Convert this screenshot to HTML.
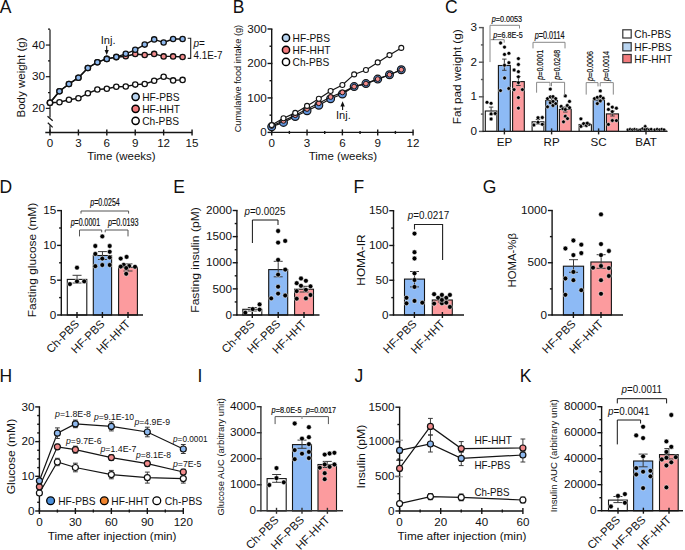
<!DOCTYPE html>
<html><head><meta charset="utf-8"><style>
html,body{margin:0;padding:0;background:#fff;width:685px;height:550px;overflow:hidden}
svg{display:block}
text{font-family:"Liberation Sans", sans-serif}
</style></head><body>
<svg width="685" height="550" viewBox="0 0 685 550">
<text x="-0.2" y="12.7" font-size="17.5" fill="#111" >A</text>
<line x1="50" y1="29.4" x2="50" y2="117.6" stroke="#151515" stroke-width="1.2"/>
<line x1="45.8" y1="108.35" x2="50" y2="108.35" stroke="#151515" stroke-width="1.2"/>
<text x="45" y="111.95" font-size="11.7" fill="#111" text-anchor="end" >20</text>
<line x1="45.8" y1="76.7" x2="50" y2="76.7" stroke="#151515" stroke-width="1.2"/>
<text x="45" y="80.3" font-size="11.7" fill="#111" text-anchor="end" >30</text>
<line x1="45.8" y1="45.05" x2="50" y2="45.05" stroke="#151515" stroke-width="1.2"/>
<text x="45" y="48.65" font-size="11.7" fill="#111" text-anchor="end" >40</text>
<line x1="48" y1="92.53" x2="50" y2="92.53" stroke="#151515" stroke-width="1.2"/>
<line x1="48" y1="60.88" x2="50" y2="60.88" stroke="#151515" stroke-width="1.2"/>
<line x1="48" y1="29.22" x2="50" y2="29.22" stroke="#151515" stroke-width="1.2"/>
<line x1="47.5" y1="116.3" x2="52.7" y2="120.8" stroke="#151515" stroke-width="1.2"/>
<line x1="47.8" y1="122.7" x2="52.7" y2="127.4" stroke="#151515" stroke-width="1.2"/>
<line x1="50" y1="125.2" x2="50" y2="132.5" stroke="#151515" stroke-width="1.2"/>
<line x1="45.3" y1="132.5" x2="192.2" y2="132.5" stroke="#151515" stroke-width="1.4"/>
<line x1="50" y1="129.5" x2="50" y2="135.5" stroke="#151515" stroke-width="1.4"/>
<text x="50" y="147.1" font-size="11.6" fill="#111" text-anchor="middle" >0</text>
<line x1="78.41" y1="129.5" x2="78.41" y2="135.5" stroke="#151515" stroke-width="1.4"/>
<text x="78.41" y="147.1" font-size="11.6" fill="#111" text-anchor="middle" >3</text>
<line x1="106.82" y1="129.5" x2="106.82" y2="135.5" stroke="#151515" stroke-width="1.4"/>
<text x="106.82" y="147.1" font-size="11.6" fill="#111" text-anchor="middle" >6</text>
<line x1="135.23" y1="129.5" x2="135.23" y2="135.5" stroke="#151515" stroke-width="1.4"/>
<text x="135.23" y="147.1" font-size="11.6" fill="#111" text-anchor="middle" >9</text>
<line x1="163.64" y1="129.5" x2="163.64" y2="135.5" stroke="#151515" stroke-width="1.4"/>
<text x="163.64" y="147.1" font-size="11.6" fill="#111" text-anchor="middle" >12</text>
<line x1="192.05" y1="129.5" x2="192.05" y2="135.5" stroke="#151515" stroke-width="1.4"/>
<text x="192.05" y="147.1" font-size="11.6" fill="#111" text-anchor="middle" >15</text>
<text x="121.4" y="159.8" font-size="11.3" fill="#111" text-anchor="middle" textLength="68.3" lengthAdjust="spacingAndGlyphs" >Time (weeks)</text>
<text transform="translate(24.7,77.5) rotate(-90)" font-size="11.4" fill="#111" text-anchor="middle" textLength="80" lengthAdjust="spacingAndGlyphs" >Body weight (g)</text>
<polyline points="50,102.7 59.47,91.3 68.94,84 78.41,77.7 87.88,68 97.35,62.2 106.82,58.9 116.29,57.2 125.76,56.3 135.23,54 144.7,55 154.17,53.9 163.64,56.4 173.11,56.4 182.58,57" fill="none" stroke="#111" stroke-width="1.4" stroke-linejoin="miter"/>
<line x1="116.29" y1="55.6" x2="116.29" y2="58.8" stroke="#3a3a3a" stroke-width="1.0"/>
<line x1="114.29" y1="55.6" x2="118.29" y2="55.6" stroke="#3a3a3a" stroke-width="1.0"/>
<line x1="114.29" y1="58.8" x2="118.29" y2="58.8" stroke="#3a3a3a" stroke-width="1.0"/>
<line x1="125.76" y1="54.7" x2="125.76" y2="57.9" stroke="#3a3a3a" stroke-width="1.0"/>
<line x1="123.76" y1="54.7" x2="127.76" y2="54.7" stroke="#3a3a3a" stroke-width="1.0"/>
<line x1="123.76" y1="57.9" x2="127.76" y2="57.9" stroke="#3a3a3a" stroke-width="1.0"/>
<line x1="135.23" y1="52.4" x2="135.23" y2="55.6" stroke="#3a3a3a" stroke-width="1.0"/>
<line x1="133.23" y1="52.4" x2="137.23" y2="52.4" stroke="#3a3a3a" stroke-width="1.0"/>
<line x1="133.23" y1="55.6" x2="137.23" y2="55.6" stroke="#3a3a3a" stroke-width="1.0"/>
<line x1="144.7" y1="53.4" x2="144.7" y2="56.6" stroke="#3a3a3a" stroke-width="1.0"/>
<line x1="142.7" y1="53.4" x2="146.7" y2="53.4" stroke="#3a3a3a" stroke-width="1.0"/>
<line x1="142.7" y1="56.6" x2="146.7" y2="56.6" stroke="#3a3a3a" stroke-width="1.0"/>
<line x1="154.17" y1="52.3" x2="154.17" y2="55.5" stroke="#3a3a3a" stroke-width="1.0"/>
<line x1="152.17" y1="52.3" x2="156.17" y2="52.3" stroke="#3a3a3a" stroke-width="1.0"/>
<line x1="152.17" y1="55.5" x2="156.17" y2="55.5" stroke="#3a3a3a" stroke-width="1.0"/>
<line x1="163.64" y1="54.8" x2="163.64" y2="58" stroke="#3a3a3a" stroke-width="1.0"/>
<line x1="161.64" y1="54.8" x2="165.64" y2="54.8" stroke="#3a3a3a" stroke-width="1.0"/>
<line x1="161.64" y1="58" x2="165.64" y2="58" stroke="#3a3a3a" stroke-width="1.0"/>
<line x1="173.11" y1="54.8" x2="173.11" y2="58" stroke="#3a3a3a" stroke-width="1.0"/>
<line x1="171.11" y1="54.8" x2="175.11" y2="54.8" stroke="#3a3a3a" stroke-width="1.0"/>
<line x1="171.11" y1="58" x2="175.11" y2="58" stroke="#3a3a3a" stroke-width="1.0"/>
<line x1="182.58" y1="55.4" x2="182.58" y2="58.6" stroke="#3a3a3a" stroke-width="1.0"/>
<line x1="180.58" y1="55.4" x2="184.58" y2="55.4" stroke="#3a3a3a" stroke-width="1.0"/>
<line x1="180.58" y1="58.6" x2="184.58" y2="58.6" stroke="#3a3a3a" stroke-width="1.0"/>
<circle cx="50" cy="102.7" r="2.65" fill="#f28b8c" stroke="#111" stroke-width="1.3"/>
<circle cx="59.47" cy="91.3" r="2.65" fill="#f28b8c" stroke="#111" stroke-width="1.3"/>
<circle cx="68.94" cy="84" r="2.65" fill="#f28b8c" stroke="#111" stroke-width="1.3"/>
<circle cx="78.41" cy="77.7" r="2.65" fill="#f28b8c" stroke="#111" stroke-width="1.3"/>
<circle cx="87.88" cy="68" r="2.65" fill="#f28b8c" stroke="#111" stroke-width="1.3"/>
<circle cx="97.35" cy="62.2" r="2.65" fill="#f28b8c" stroke="#111" stroke-width="1.3"/>
<circle cx="106.82" cy="58.9" r="2.65" fill="#f28b8c" stroke="#111" stroke-width="1.3"/>
<circle cx="116.29" cy="57.2" r="2.65" fill="#f28b8c" stroke="#111" stroke-width="1.3"/>
<circle cx="125.76" cy="56.3" r="2.65" fill="#f28b8c" stroke="#111" stroke-width="1.3"/>
<circle cx="135.23" cy="54" r="2.65" fill="#f28b8c" stroke="#111" stroke-width="1.3"/>
<circle cx="144.7" cy="55" r="2.65" fill="#f28b8c" stroke="#111" stroke-width="1.3"/>
<circle cx="154.17" cy="53.9" r="2.65" fill="#f28b8c" stroke="#111" stroke-width="1.3"/>
<circle cx="163.64" cy="56.4" r="2.65" fill="#f28b8c" stroke="#111" stroke-width="1.3"/>
<circle cx="173.11" cy="56.4" r="2.65" fill="#f28b8c" stroke="#111" stroke-width="1.3"/>
<circle cx="182.58" cy="57" r="2.65" fill="#f28b8c" stroke="#111" stroke-width="1.3"/>
<polyline points="50,102.7 59.47,91.3 68.94,84 78.41,77.7 87.88,68 97.35,62.2 106.82,58.9 116.29,56.9 125.76,53.8 135.23,49.8 144.7,44.6 154.17,39.4 163.64,42.5 173.11,39 182.58,39" fill="none" stroke="#111" stroke-width="1.4" stroke-linejoin="miter"/>
<circle cx="50" cy="102.7" r="2.65" fill="#8db8ee" stroke="#111" stroke-width="1.3"/>
<circle cx="59.47" cy="91.3" r="2.65" fill="#8db8ee" stroke="#111" stroke-width="1.3"/>
<circle cx="68.94" cy="84" r="2.65" fill="#8db8ee" stroke="#111" stroke-width="1.3"/>
<circle cx="78.41" cy="77.7" r="2.65" fill="#8db8ee" stroke="#111" stroke-width="1.3"/>
<circle cx="87.88" cy="68" r="2.65" fill="#8db8ee" stroke="#111" stroke-width="1.3"/>
<circle cx="97.35" cy="62.2" r="2.65" fill="#8db8ee" stroke="#111" stroke-width="1.3"/>
<circle cx="106.82" cy="58.9" r="2.65" fill="#8db8ee" stroke="#111" stroke-width="1.3"/>
<circle cx="116.29" cy="56.9" r="2.65" fill="#8db8ee" stroke="#111" stroke-width="1.3"/>
<circle cx="125.76" cy="53.8" r="2.65" fill="#8db8ee" stroke="#111" stroke-width="1.3"/>
<circle cx="135.23" cy="49.8" r="2.65" fill="#8db8ee" stroke="#111" stroke-width="1.3"/>
<circle cx="144.7" cy="44.6" r="2.65" fill="#8db8ee" stroke="#111" stroke-width="1.3"/>
<circle cx="154.17" cy="39.4" r="2.65" fill="#8db8ee" stroke="#111" stroke-width="1.3"/>
<circle cx="163.64" cy="42.5" r="2.65" fill="#8db8ee" stroke="#111" stroke-width="1.3"/>
<circle cx="173.11" cy="39" r="2.65" fill="#8db8ee" stroke="#111" stroke-width="1.3"/>
<circle cx="182.58" cy="39" r="2.65" fill="#8db8ee" stroke="#111" stroke-width="1.3"/>
<polyline points="50,102.7 59.47,102.3 68.94,99.7 78.41,98.3 87.88,93.3 97.35,89.5 106.82,88.8 116.29,86.8 125.76,86.5 135.23,84.6 144.7,84 154.17,80.8 163.64,76.7 173.11,80.4 182.58,79.9" fill="none" stroke="#111" stroke-width="1.4" stroke-linejoin="miter"/>
<circle cx="50" cy="102.7" r="2.65" fill="#fff" stroke="#111" stroke-width="1.3"/>
<circle cx="59.47" cy="102.3" r="2.65" fill="#fff" stroke="#111" stroke-width="1.3"/>
<circle cx="68.94" cy="99.7" r="2.65" fill="#fff" stroke="#111" stroke-width="1.3"/>
<circle cx="78.41" cy="98.3" r="2.65" fill="#fff" stroke="#111" stroke-width="1.3"/>
<circle cx="87.88" cy="93.3" r="2.65" fill="#fff" stroke="#111" stroke-width="1.3"/>
<circle cx="97.35" cy="89.5" r="2.65" fill="#fff" stroke="#111" stroke-width="1.3"/>
<circle cx="106.82" cy="88.8" r="2.65" fill="#fff" stroke="#111" stroke-width="1.3"/>
<circle cx="116.29" cy="86.8" r="2.65" fill="#fff" stroke="#111" stroke-width="1.3"/>
<circle cx="125.76" cy="86.5" r="2.65" fill="#fff" stroke="#111" stroke-width="1.3"/>
<circle cx="135.23" cy="84.6" r="2.65" fill="#fff" stroke="#111" stroke-width="1.3"/>
<circle cx="144.7" cy="84" r="2.65" fill="#fff" stroke="#111" stroke-width="1.3"/>
<circle cx="154.17" cy="80.8" r="2.65" fill="#fff" stroke="#111" stroke-width="1.3"/>
<circle cx="163.64" cy="76.7" r="2.65" fill="#fff" stroke="#111" stroke-width="1.3"/>
<circle cx="173.11" cy="80.4" r="2.65" fill="#fff" stroke="#111" stroke-width="1.3"/>
<circle cx="182.58" cy="79.9" r="2.65" fill="#fff" stroke="#111" stroke-width="1.3"/>
<text x="108.1" y="44" font-size="11.4" fill="#111" text-anchor="middle" textLength="14.8" lengthAdjust="spacingAndGlyphs" >Inj.</text>
<line x1="106.7" y1="45.8" x2="106.7" y2="51" stroke="#111" stroke-width="1.1"/>
<path d="M104.6,50.1 L108.8,50.1 L106.7,55 Z" fill="#111"/>
<polyline points="187.7,38.3 190.7,38.3 190.7,58.4 187.7,58.4" fill="none" stroke="#222" stroke-width="1.1" stroke-linejoin="miter"/>
<text x="193.5" y="47" font-size="10" fill="#111" ><tspan font-style="italic">p</tspan>=</text>
<text x="193.6" y="58.6" font-size="10.2" fill="#111" textLength="29" lengthAdjust="spacingAndGlyphs" >4.1E-7</text>
<circle cx="135.6" cy="96.8" r="3.6" fill="#b9d5f1" stroke="#000" stroke-width="1.5"/>
<text x="142.2" y="101.3" font-size="10.2" fill="#111" >HF-PBS</text>
<circle cx="135.6" cy="108.8" r="3.6" fill="#f27b7d" stroke="#000" stroke-width="1.5"/>
<text x="142.2" y="113.3" font-size="10.2" fill="#111" >HF-HHT</text>
<circle cx="135.6" cy="120.8" r="3.6" fill="#fff" stroke="#000" stroke-width="1.5"/>
<text x="142.2" y="125.3" font-size="10.2" fill="#111" >Ch-PBS</text>
<text x="232.7" y="12.7" font-size="17.5" fill="#111" >B</text>
<line x1="271.7" y1="28.99" x2="271.7" y2="132.4" stroke="#151515" stroke-width="1.4"/>
<line x1="267.5" y1="132.4" x2="272.4" y2="132.4" stroke="#151515" stroke-width="1.4"/>
<text x="266.7" y="136.03" font-size="11.7" fill="#111" text-anchor="end" >0</text>
<line x1="267.5" y1="97.93" x2="272.4" y2="97.93" stroke="#151515" stroke-width="1.4"/>
<text x="266.7" y="101.56" font-size="11.7" fill="#111" text-anchor="end" >100</text>
<line x1="267.5" y1="63.46" x2="272.4" y2="63.46" stroke="#151515" stroke-width="1.4"/>
<text x="266.7" y="67.09" font-size="11.7" fill="#111" text-anchor="end" >200</text>
<line x1="267.5" y1="28.99" x2="272.4" y2="28.99" stroke="#151515" stroke-width="1.4"/>
<text x="266.7" y="32.62" font-size="11.7" fill="#111" text-anchor="end" >300</text>
<line x1="269.5" y1="115.17" x2="271.7" y2="115.17" stroke="#151515" stroke-width="1.4"/>
<line x1="269.5" y1="80.7" x2="271.7" y2="80.7" stroke="#151515" stroke-width="1.4"/>
<line x1="269.5" y1="46.23" x2="271.7" y2="46.23" stroke="#151515" stroke-width="1.4"/>
<line x1="271" y1="132.4" x2="413.4" y2="132.4" stroke="#151515" stroke-width="1.4"/>
<line x1="271.7" y1="129.4" x2="271.7" y2="135.4" stroke="#151515" stroke-width="1.4"/>
<text x="271.7" y="147" font-size="11.6" fill="#111" text-anchor="middle" >0</text>
<line x1="307.04" y1="129.4" x2="307.04" y2="135.4" stroke="#151515" stroke-width="1.4"/>
<text x="307.04" y="147" font-size="11.6" fill="#111" text-anchor="middle" >3</text>
<line x1="342.38" y1="129.4" x2="342.38" y2="135.4" stroke="#151515" stroke-width="1.4"/>
<text x="342.38" y="147" font-size="11.6" fill="#111" text-anchor="middle" >6</text>
<line x1="377.72" y1="129.4" x2="377.72" y2="135.4" stroke="#151515" stroke-width="1.4"/>
<text x="377.72" y="147" font-size="11.6" fill="#111" text-anchor="middle" >9</text>
<line x1="413.06" y1="129.4" x2="413.06" y2="135.4" stroke="#151515" stroke-width="1.4"/>
<text x="413.06" y="147" font-size="11.6" fill="#111" text-anchor="middle" >12</text>
<line x1="289.37" y1="130.9" x2="289.37" y2="133.9" stroke="#151515" stroke-width="1.4"/>
<line x1="324.71" y1="130.9" x2="324.71" y2="133.9" stroke="#151515" stroke-width="1.4"/>
<line x1="360.05" y1="130.9" x2="360.05" y2="133.9" stroke="#151515" stroke-width="1.4"/>
<line x1="395.39" y1="130.9" x2="395.39" y2="133.9" stroke="#151515" stroke-width="1.4"/>
<text x="342.9" y="159.8" font-size="11.3" fill="#111" text-anchor="middle" textLength="68.3" lengthAdjust="spacingAndGlyphs" >Time (weeks)</text>
<text transform="translate(241.4,78.6) rotate(-90)" font-size="9.3" fill="#111" text-anchor="middle" textLength="107.5" lengthAdjust="spacingAndGlyphs" >Cumulative food intake (g)</text>
<polyline points="271.7,126.8 283.48,122.4 295.26,116.5 307.04,110.7 318.82,105.2 330.6,98.8 342.38,94 354.16,86.6 365.94,83.6 377.72,79.1 389.5,74.7 401.28,69.7" fill="none" stroke="#151515" stroke-width="1.2" stroke-linejoin="miter"/>
<circle cx="271.7" cy="126.8" r="3.9" fill="#5f93dc" stroke="#151515" stroke-width="1.2"/>
<circle cx="283.48" cy="122.4" r="3.9" fill="#5f93dc" stroke="#151515" stroke-width="1.2"/>
<circle cx="295.26" cy="116.5" r="3.9" fill="#5f93dc" stroke="#151515" stroke-width="1.2"/>
<circle cx="307.04" cy="110.7" r="3.9" fill="#5f93dc" stroke="#151515" stroke-width="1.2"/>
<circle cx="318.82" cy="105.2" r="3.9" fill="#5f93dc" stroke="#151515" stroke-width="1.2"/>
<circle cx="330.6" cy="98.8" r="3.9" fill="#5f93dc" stroke="#151515" stroke-width="1.2"/>
<circle cx="342.38" cy="94" r="3.9" fill="#5f93dc" stroke="#151515" stroke-width="1.2"/>
<circle cx="354.16" cy="86.6" r="3.9" fill="#5f93dc" stroke="#151515" stroke-width="1.2"/>
<circle cx="365.94" cy="83.6" r="3.9" fill="#5f93dc" stroke="#151515" stroke-width="1.2"/>
<circle cx="377.72" cy="79.1" r="3.9" fill="#5f93dc" stroke="#151515" stroke-width="1.2"/>
<circle cx="389.5" cy="74.7" r="3.9" fill="#5f93dc" stroke="#151515" stroke-width="1.2"/>
<circle cx="401.28" cy="69.7" r="3.9" fill="#5f93dc" stroke="#151515" stroke-width="1.2"/>
<polyline points="271.7,126 283.48,120.9 295.26,115.2 307.04,109 318.82,103.3 330.6,97 342.38,92.4 354.16,86.6 365.94,83.6 377.72,79.1 389.5,74.7 401.28,69.7" fill="none" stroke="#151515" stroke-width="1.2" stroke-linejoin="miter"/>
<circle cx="271.7" cy="126" r="2.4" fill="#f28b8c" stroke="#151515" stroke-width="1.0"/>
<circle cx="283.48" cy="120.9" r="2.4" fill="#f28b8c" stroke="#151515" stroke-width="1.0"/>
<circle cx="295.26" cy="115.2" r="2.4" fill="#f28b8c" stroke="#151515" stroke-width="1.0"/>
<circle cx="307.04" cy="109" r="2.4" fill="#f28b8c" stroke="#151515" stroke-width="1.0"/>
<circle cx="318.82" cy="103.3" r="2.4" fill="#f28b8c" stroke="#151515" stroke-width="1.0"/>
<circle cx="330.6" cy="97" r="2.4" fill="#f28b8c" stroke="#151515" stroke-width="1.0"/>
<circle cx="342.38" cy="92.4" r="2.4" fill="#f28b8c" stroke="#151515" stroke-width="1.0"/>
<circle cx="354.16" cy="86.6" r="2.4" fill="#f28b8c" stroke="#151515" stroke-width="1.0"/>
<circle cx="365.94" cy="83.6" r="2.4" fill="#f28b8c" stroke="#151515" stroke-width="1.0"/>
<circle cx="377.72" cy="79.1" r="2.4" fill="#f28b8c" stroke="#151515" stroke-width="1.0"/>
<circle cx="389.5" cy="74.7" r="2.4" fill="#f28b8c" stroke="#151515" stroke-width="1.0"/>
<circle cx="401.28" cy="69.7" r="2.4" fill="#f28b8c" stroke="#151515" stroke-width="1.0"/>
<polyline points="271.7,125.1 283.48,118.3 295.26,112.9 307.04,105.9 318.82,98.8 330.6,91 342.38,85 354.16,74.4 365.94,70 377.72,62.4 389.5,55.1 401.28,47.9" fill="none" stroke="#151515" stroke-width="1.2" stroke-linejoin="miter"/>
<circle cx="271.7" cy="125.1" r="2.5" fill="#fff" stroke="#151515" stroke-width="1.1"/>
<circle cx="283.48" cy="118.3" r="2.5" fill="#fff" stroke="#151515" stroke-width="1.1"/>
<circle cx="295.26" cy="112.9" r="2.5" fill="#fff" stroke="#151515" stroke-width="1.1"/>
<circle cx="307.04" cy="105.9" r="2.5" fill="#fff" stroke="#151515" stroke-width="1.1"/>
<circle cx="318.82" cy="98.8" r="2.5" fill="#fff" stroke="#151515" stroke-width="1.1"/>
<circle cx="330.6" cy="91" r="2.5" fill="#fff" stroke="#151515" stroke-width="1.1"/>
<circle cx="342.38" cy="85" r="2.5" fill="#fff" stroke="#151515" stroke-width="1.1"/>
<circle cx="354.16" cy="74.4" r="2.5" fill="#fff" stroke="#151515" stroke-width="1.1"/>
<circle cx="365.94" cy="70" r="2.5" fill="#fff" stroke="#151515" stroke-width="1.1"/>
<circle cx="377.72" cy="62.4" r="2.5" fill="#fff" stroke="#151515" stroke-width="1.1"/>
<circle cx="389.5" cy="55.1" r="2.5" fill="#fff" stroke="#151515" stroke-width="1.1"/>
<circle cx="401.28" cy="47.9" r="2.5" fill="#fff" stroke="#151515" stroke-width="1.1"/>
<line x1="342.6" y1="104" x2="342.6" y2="110" stroke="#111" stroke-width="1.1"/>
<path d="M340.4,106.6 L344.8,106.6 L342.6,101.3 Z" fill="#111"/>
<text x="343.4" y="119.2" font-size="11.4" fill="#111" text-anchor="middle" textLength="14.8" lengthAdjust="spacingAndGlyphs" >Inj.</text>
<circle cx="286" cy="37.9" r="3.6" fill="#b9d5f1" stroke="#000" stroke-width="1.5"/>
<text x="292.6" y="42.4" font-size="10.2" fill="#111" >HF-PBS</text>
<circle cx="286" cy="49.9" r="3.6" fill="#f27b7d" stroke="#000" stroke-width="1.5"/>
<text x="292.6" y="54.4" font-size="10.2" fill="#111" >HF-HHT</text>
<circle cx="286" cy="61.9" r="3.6" fill="#fff" stroke="#000" stroke-width="1.5"/>
<text x="292.6" y="66.4" font-size="10.2" fill="#111" >Ch-PBS</text>
<text x="445" y="12.7" font-size="17.5" fill="#111" >C</text>
<line x1="483.1" y1="27.6" x2="483.1" y2="131.4" stroke="#555" stroke-width="1.4"/>
<line x1="478.9" y1="131.4" x2="483.8" y2="131.4" stroke="#555" stroke-width="1.4"/>
<text x="477.1" y="135.03" font-size="11.7" fill="#111" text-anchor="end" >0</text>
<line x1="478.9" y1="96.8" x2="483.8" y2="96.8" stroke="#555" stroke-width="1.4"/>
<text x="477.1" y="100.43" font-size="11.7" fill="#111" text-anchor="end" >1</text>
<line x1="478.9" y1="62.2" x2="483.8" y2="62.2" stroke="#555" stroke-width="1.4"/>
<text x="477.1" y="65.83" font-size="11.7" fill="#111" text-anchor="end" >2</text>
<line x1="478.9" y1="27.6" x2="483.8" y2="27.6" stroke="#555" stroke-width="1.4"/>
<text x="477.1" y="31.23" font-size="11.7" fill="#111" text-anchor="end" >3</text>
<line x1="480.9" y1="114.1" x2="483.1" y2="114.1" stroke="#555" stroke-width="1.4"/>
<line x1="480.9" y1="79.5" x2="483.1" y2="79.5" stroke="#555" stroke-width="1.4"/>
<line x1="480.9" y1="44.9" x2="483.1" y2="44.9" stroke="#555" stroke-width="1.4"/>
<text transform="translate(460.8,76.8) rotate(-90)" font-size="11.8" fill="#111" text-anchor="middle" textLength="95" lengthAdjust="spacingAndGlyphs" >Fat pad weight (g)</text>
<rect x="485.3" y="111" width="11.6" height="20.4" fill="#fff" stroke="#151515" stroke-width="1.1"/>
<line x1="491.1" y1="107.1" x2="491.1" y2="114.5" stroke="#3a3a3a" stroke-width="1.0"/>
<line x1="488.9" y1="107.1" x2="493.3" y2="107.1" stroke="#3a3a3a" stroke-width="1.0"/>
<line x1="488.9" y1="114.5" x2="493.3" y2="114.5" stroke="#3a3a3a" stroke-width="1.0"/>
<circle cx="487" cy="102.3" r="1.9" fill="#000" stroke="#fff" stroke-width="0.5"/>
<circle cx="491.1" cy="103.3" r="1.9" fill="#000" stroke="#fff" stroke-width="0.5"/>
<circle cx="491.1" cy="113.9" r="1.9" fill="#000" stroke="#fff" stroke-width="0.5"/>
<circle cx="495.2" cy="113.5" r="1.9" fill="#000" stroke="#fff" stroke-width="0.5"/>
<circle cx="491.1" cy="119" r="1.9" fill="#000" stroke="#fff" stroke-width="0.5"/>
<rect x="498.4" y="65.5" width="11.9" height="65.9" fill="#8dbaf5" stroke="#151515" stroke-width="1.1"/>
<line x1="504.35" y1="59.1" x2="504.35" y2="70.3" stroke="#3a3a3a" stroke-width="1.0"/>
<line x1="502.15" y1="59.1" x2="506.55" y2="59.1" stroke="#3a3a3a" stroke-width="1.0"/>
<line x1="502.15" y1="70.3" x2="506.55" y2="70.3" stroke="#3a3a3a" stroke-width="1.0"/>
<circle cx="500.6" cy="43" r="1.9" fill="#000" stroke="#fff" stroke-width="0.5"/>
<circle cx="504.5" cy="47.1" r="1.9" fill="#000" stroke="#fff" stroke-width="0.5"/>
<circle cx="504.5" cy="54.4" r="1.9" fill="#000" stroke="#fff" stroke-width="0.5"/>
<circle cx="508.9" cy="53.3" r="1.9" fill="#000" stroke="#fff" stroke-width="0.5"/>
<circle cx="508.9" cy="62.7" r="1.9" fill="#000" stroke="#fff" stroke-width="0.5"/>
<circle cx="504.5" cy="65.2" r="1.9" fill="#000" stroke="#fff" stroke-width="0.5"/>
<circle cx="504.6" cy="78" r="1.9" fill="#000" stroke="#fff" stroke-width="0.5"/>
<circle cx="500.5" cy="90.6" r="1.9" fill="#000" stroke="#fff" stroke-width="0.5"/>
<circle cx="508.8" cy="88.5" r="1.9" fill="#000" stroke="#fff" stroke-width="0.5"/>
<rect x="512.6" y="81.6" width="11.7" height="49.8" fill="#fc9b9e" stroke="#151515" stroke-width="1.1"/>
<line x1="518.45" y1="76.5" x2="518.45" y2="85.5" stroke="#3a3a3a" stroke-width="1.0"/>
<line x1="516.25" y1="76.5" x2="520.65" y2="76.5" stroke="#3a3a3a" stroke-width="1.0"/>
<line x1="516.25" y1="85.5" x2="520.65" y2="85.5" stroke="#3a3a3a" stroke-width="1.0"/>
<circle cx="518.4" cy="58.6" r="1.9" fill="#000" stroke="#fff" stroke-width="0.5"/>
<circle cx="518.4" cy="64.5" r="1.9" fill="#000" stroke="#fff" stroke-width="0.5"/>
<circle cx="514.1" cy="70" r="1.9" fill="#000" stroke="#fff" stroke-width="0.5"/>
<circle cx="518.4" cy="71.7" r="1.9" fill="#000" stroke="#fff" stroke-width="0.5"/>
<circle cx="518.4" cy="76.8" r="1.9" fill="#000" stroke="#fff" stroke-width="0.5"/>
<circle cx="514.1" cy="89.6" r="1.9" fill="#000" stroke="#fff" stroke-width="0.5"/>
<circle cx="522.4" cy="89.6" r="1.9" fill="#000" stroke="#fff" stroke-width="0.5"/>
<circle cx="518.4" cy="97.6" r="1.9" fill="#000" stroke="#fff" stroke-width="0.5"/>
<circle cx="518.4" cy="108.1" r="1.9" fill="#000" stroke="#fff" stroke-width="0.5"/>
<circle cx="518.4" cy="82.6" r="1.9" fill="#000" stroke="#fff" stroke-width="0.5"/>
<rect x="532.1" y="121.8" width="11.8" height="9.6" fill="#fff" stroke="#151515" stroke-width="1.1"/>
<line x1="538" y1="119.5" x2="538" y2="124" stroke="#3a3a3a" stroke-width="1.0"/>
<line x1="535.8" y1="119.5" x2="540.2" y2="119.5" stroke="#3a3a3a" stroke-width="1.0"/>
<line x1="535.8" y1="124" x2="540.2" y2="124" stroke="#3a3a3a" stroke-width="1.0"/>
<circle cx="538" cy="117.7" r="1.9" fill="#000" stroke="#fff" stroke-width="0.5"/>
<circle cx="542.3" cy="117.5" r="1.9" fill="#000" stroke="#fff" stroke-width="0.5"/>
<circle cx="538" cy="122.3" r="1.9" fill="#000" stroke="#fff" stroke-width="0.5"/>
<circle cx="533.9" cy="125" r="1.9" fill="#000" stroke="#fff" stroke-width="0.5"/>
<circle cx="542.3" cy="124.3" r="1.9" fill="#000" stroke="#fff" stroke-width="0.5"/>
<rect x="545.7" y="100.5" width="11.8" height="30.9" fill="#8dbaf5" stroke="#151515" stroke-width="1.1"/>
<line x1="551.6" y1="98.5" x2="551.6" y2="102.5" stroke="#3a3a3a" stroke-width="1.0"/>
<line x1="549.4" y1="98.5" x2="553.8" y2="98.5" stroke="#3a3a3a" stroke-width="1.0"/>
<line x1="549.4" y1="102.5" x2="553.8" y2="102.5" stroke="#3a3a3a" stroke-width="1.0"/>
<circle cx="550.3" cy="89.1" r="1.9" fill="#000" stroke="#fff" stroke-width="0.5"/>
<circle cx="547.5" cy="98.6" r="1.9" fill="#000" stroke="#fff" stroke-width="0.5"/>
<circle cx="550.3" cy="96.8" r="1.9" fill="#000" stroke="#fff" stroke-width="0.5"/>
<circle cx="553" cy="96.6" r="1.9" fill="#000" stroke="#fff" stroke-width="0.5"/>
<circle cx="555.7" cy="98.6" r="1.9" fill="#000" stroke="#fff" stroke-width="0.5"/>
<circle cx="550.3" cy="102.7" r="1.9" fill="#000" stroke="#fff" stroke-width="0.5"/>
<circle cx="553" cy="105.5" r="1.9" fill="#000" stroke="#fff" stroke-width="0.5"/>
<circle cx="555.7" cy="103.6" r="1.9" fill="#000" stroke="#fff" stroke-width="0.5"/>
<circle cx="547.5" cy="106.8" r="1.9" fill="#000" stroke="#fff" stroke-width="0.5"/>
<circle cx="553" cy="101.4" r="1.9" fill="#000" stroke="#fff" stroke-width="0.5"/>
<rect x="559.4" y="109.4" width="11.8" height="22" fill="#fc9b9e" stroke="#151515" stroke-width="1.1"/>
<line x1="565.3" y1="107" x2="565.3" y2="112" stroke="#3a3a3a" stroke-width="1.0"/>
<line x1="563.1" y1="107" x2="567.5" y2="107" stroke="#3a3a3a" stroke-width="1.0"/>
<line x1="563.1" y1="112" x2="567.5" y2="112" stroke="#3a3a3a" stroke-width="1.0"/>
<circle cx="565.3" cy="95.9" r="1.9" fill="#000" stroke="#fff" stroke-width="0.5"/>
<circle cx="569.5" cy="101.4" r="1.9" fill="#000" stroke="#fff" stroke-width="0.5"/>
<circle cx="567.3" cy="105.5" r="1.9" fill="#000" stroke="#fff" stroke-width="0.5"/>
<circle cx="561.2" cy="106.4" r="1.9" fill="#000" stroke="#fff" stroke-width="0.5"/>
<circle cx="569.6" cy="107.7" r="1.9" fill="#000" stroke="#fff" stroke-width="0.5"/>
<circle cx="563" cy="108.8" r="1.9" fill="#000" stroke="#fff" stroke-width="0.5"/>
<circle cx="565.3" cy="109.5" r="1.9" fill="#000" stroke="#fff" stroke-width="0.5"/>
<circle cx="565.3" cy="116.2" r="1.9" fill="#000" stroke="#fff" stroke-width="0.5"/>
<circle cx="567.5" cy="118.6" r="1.9" fill="#000" stroke="#fff" stroke-width="0.5"/>
<circle cx="563.5" cy="121.8" r="1.9" fill="#000" stroke="#fff" stroke-width="0.5"/>
<rect x="579.1" y="124.5" width="12.3" height="6.9" fill="#fff" stroke="#151515" stroke-width="1.1"/>
<line x1="585.25" y1="122.5" x2="585.25" y2="126" stroke="#3a3a3a" stroke-width="1.0"/>
<line x1="583.05" y1="122.5" x2="587.45" y2="122.5" stroke="#3a3a3a" stroke-width="1.0"/>
<line x1="583.05" y1="126" x2="587.45" y2="126" stroke="#3a3a3a" stroke-width="1.0"/>
<circle cx="580.9" cy="118.8" r="1.9" fill="#000" stroke="#fff" stroke-width="0.5"/>
<circle cx="580.9" cy="126.4" r="1.9" fill="#000" stroke="#fff" stroke-width="0.5"/>
<circle cx="583.6" cy="123.6" r="1.9" fill="#000" stroke="#fff" stroke-width="0.5"/>
<circle cx="586.4" cy="125.5" r="1.9" fill="#000" stroke="#fff" stroke-width="0.5"/>
<circle cx="589.1" cy="124.3" r="1.9" fill="#000" stroke="#fff" stroke-width="0.5"/>
<circle cx="587.3" cy="123.2" r="1.9" fill="#000" stroke="#fff" stroke-width="0.5"/>
<rect x="593.2" y="100" width="11.3" height="31.4" fill="#8dbaf5" stroke="#151515" stroke-width="1.1"/>
<line x1="598.85" y1="98" x2="598.85" y2="102" stroke="#3a3a3a" stroke-width="1.0"/>
<line x1="596.65" y1="98" x2="601.05" y2="98" stroke="#3a3a3a" stroke-width="1.0"/>
<line x1="596.65" y1="102" x2="601.05" y2="102" stroke="#3a3a3a" stroke-width="1.0"/>
<circle cx="600.3" cy="90.9" r="1.9" fill="#000" stroke="#fff" stroke-width="0.5"/>
<circle cx="594.5" cy="98.6" r="1.9" fill="#000" stroke="#fff" stroke-width="0.5"/>
<circle cx="597.3" cy="97.3" r="1.9" fill="#000" stroke="#fff" stroke-width="0.5"/>
<circle cx="600.5" cy="96.4" r="1.9" fill="#000" stroke="#fff" stroke-width="0.5"/>
<circle cx="603.2" cy="98.2" r="1.9" fill="#000" stroke="#fff" stroke-width="0.5"/>
<circle cx="600.3" cy="100.9" r="1.9" fill="#000" stroke="#fff" stroke-width="0.5"/>
<circle cx="597.3" cy="103.6" r="1.9" fill="#000" stroke="#fff" stroke-width="0.5"/>
<rect x="606.4" y="113.9" width="12.1" height="17.5" fill="#fc9b9e" stroke="#151515" stroke-width="1.1"/>
<line x1="612.45" y1="111" x2="612.45" y2="116" stroke="#3a3a3a" stroke-width="1.0"/>
<line x1="610.25" y1="111" x2="614.65" y2="111" stroke="#3a3a3a" stroke-width="1.0"/>
<line x1="610.25" y1="116" x2="614.65" y2="116" stroke="#3a3a3a" stroke-width="1.0"/>
<circle cx="608.4" cy="104.1" r="1.9" fill="#000" stroke="#fff" stroke-width="0.5"/>
<circle cx="612.3" cy="107.1" r="1.9" fill="#000" stroke="#fff" stroke-width="0.5"/>
<circle cx="616.4" cy="108.2" r="1.9" fill="#000" stroke="#fff" stroke-width="0.5"/>
<circle cx="608.4" cy="109.4" r="1.9" fill="#000" stroke="#fff" stroke-width="0.5"/>
<circle cx="612.3" cy="111.6" r="1.9" fill="#000" stroke="#fff" stroke-width="0.5"/>
<circle cx="612.3" cy="120.5" r="1.9" fill="#000" stroke="#fff" stroke-width="0.5"/>
<circle cx="616.4" cy="120.6" r="1.9" fill="#000" stroke="#fff" stroke-width="0.5"/>
<circle cx="608.4" cy="124.4" r="1.9" fill="#000" stroke="#fff" stroke-width="0.5"/>
<rect x="627" y="130.2" width="12" height="1.2" fill="#fff" stroke="#151515" stroke-width="0.8"/>
<rect x="640.5" y="130.2" width="12" height="1.2" fill="#8dbaf5" stroke="#151515" stroke-width="0.8"/>
<rect x="654" y="130.2" width="12" height="1.2" fill="#fc9b9e" stroke="#151515" stroke-width="0.8"/>
<circle cx="627.9" cy="129.8" r="1.7" fill="#000" stroke="#fff" stroke-width="0.5"/>
<circle cx="630.1" cy="129.3" r="1.7" fill="#000" stroke="#fff" stroke-width="0.5"/>
<circle cx="632.4" cy="129.6" r="1.7" fill="#000" stroke="#fff" stroke-width="0.5"/>
<circle cx="634.6" cy="129.2" r="1.7" fill="#000" stroke="#fff" stroke-width="0.5"/>
<circle cx="636.8" cy="129.6" r="1.7" fill="#000" stroke="#fff" stroke-width="0.5"/>
<circle cx="638.6" cy="130.2" r="1.7" fill="#000" stroke="#fff" stroke-width="0.5"/>
<circle cx="640.5" cy="129.6" r="1.7" fill="#000" stroke="#fff" stroke-width="0.5"/>
<circle cx="642.6" cy="128.6" r="1.7" fill="#000" stroke="#fff" stroke-width="0.5"/>
<circle cx="644.8" cy="129.4" r="1.7" fill="#000" stroke="#fff" stroke-width="0.5"/>
<circle cx="645.2" cy="126.3" r="1.7" fill="#000" stroke="#fff" stroke-width="0.5"/>
<circle cx="647.2" cy="129" r="1.7" fill="#000" stroke="#fff" stroke-width="0.5"/>
<circle cx="649.2" cy="129.6" r="1.7" fill="#000" stroke="#fff" stroke-width="0.5"/>
<circle cx="651.2" cy="129.2" r="1.7" fill="#000" stroke="#fff" stroke-width="0.5"/>
<circle cx="654.7" cy="129.8" r="1.7" fill="#000" stroke="#fff" stroke-width="0.5"/>
<circle cx="657.2" cy="129.2" r="1.7" fill="#000" stroke="#fff" stroke-width="0.5"/>
<circle cx="659.6" cy="129.6" r="1.7" fill="#000" stroke="#fff" stroke-width="0.5"/>
<circle cx="661.8" cy="129.1" r="1.7" fill="#000" stroke="#fff" stroke-width="0.5"/>
<circle cx="664" cy="129.6" r="1.7" fill="#000" stroke="#fff" stroke-width="0.5"/>
<line x1="482.4" y1="131.4" x2="667.6" y2="131.4" stroke="#222" stroke-width="1.4"/>
<line x1="504.4" y1="128.4" x2="504.4" y2="134.4" stroke="#222" stroke-width="1.4"/>
<text x="504.4" y="146" font-size="11.6" fill="#111" text-anchor="middle" >EP</text>
<line x1="551.6" y1="128.4" x2="551.6" y2="134.4" stroke="#222" stroke-width="1.4"/>
<text x="551.6" y="146" font-size="11.6" fill="#111" text-anchor="middle" >RP</text>
<line x1="598.6" y1="128.4" x2="598.6" y2="134.4" stroke="#222" stroke-width="1.4"/>
<text x="598.6" y="146" font-size="11.6" fill="#111" text-anchor="middle" >SC</text>
<line x1="646" y1="128.4" x2="646" y2="134.4" stroke="#222" stroke-width="1.4"/>
<text x="646" y="146" font-size="11.6" fill="#111" text-anchor="middle" >BAT</text>
<polyline points="490,62.1 490,25.3 519.5,25.3 519.5,28.5" fill="none" stroke="#888" stroke-width="1.0" stroke-linejoin="miter"/>
<polyline points="490.5,39.7 504.2,39.7 504.2,42.7" fill="none" stroke="#888" stroke-width="1.0" stroke-linejoin="miter"/>
<text x="506.9" y="22" font-size="9.4" fill="#111" text-anchor="middle" textLength="30.5" lengthAdjust="spacingAndGlyphs" stroke="#111" stroke-width="0.2"><tspan font-style="italic">p</tspan>=0.0053</text>
<text x="508" y="38.2" font-size="9.4" fill="#111" text-anchor="middle" textLength="29.4" lengthAdjust="spacingAndGlyphs" stroke="#111" stroke-width="0.2"><tspan font-style="italic">p</tspan>=6.8E-5</text>
<polyline points="533,48.4 533,42.3 565,42.3 565,48.4" fill="none" stroke="#888" stroke-width="1.0" stroke-linejoin="miter"/>
<text x="549.6" y="39.4" font-size="10" fill="#111" text-anchor="middle" textLength="29.8" lengthAdjust="spacingAndGlyphs" stroke="#111" stroke-width="0.2"><tspan font-style="italic">p</tspan>=0.0114</text>
<polyline points="536.6,92.7 536.6,82.3 550,82.3 550,86.2" fill="none" stroke="#888" stroke-width="1.0" stroke-linejoin="miter"/>
<polyline points="551.5,86.2 551.5,82.3 564.6,82.3 564.6,95.6" fill="none" stroke="#888" stroke-width="1.0" stroke-linejoin="miter"/>
<text transform="translate(542.9,64.8) rotate(-90)" font-size="9.8" fill="#111" text-anchor="middle" textLength="29.8" lengthAdjust="spacingAndGlyphs" stroke="#111" stroke-width="0.2"><tspan font-style="italic">p</tspan>=0.0001</text>
<text transform="translate(560.2,64.8) rotate(-90)" font-size="9.8" fill="#111" text-anchor="middle" textLength="29.8" lengthAdjust="spacingAndGlyphs" stroke="#111" stroke-width="0.2"><tspan font-style="italic">p</tspan>=0.0248</text>
<polyline points="586.2,94.6 586.2,82.6 598,82.6 598,86.4" fill="none" stroke="#888" stroke-width="1.0" stroke-linejoin="miter"/>
<polyline points="600.2,86.4 600.2,82.6 613.3,82.6 613.3,94.6" fill="none" stroke="#888" stroke-width="1.0" stroke-linejoin="miter"/>
<text transform="translate(592.9,66) rotate(-90)" font-size="9.8" fill="#111" text-anchor="middle" textLength="30" lengthAdjust="spacingAndGlyphs" stroke="#111" stroke-width="0.2"><tspan font-style="italic">p</tspan>=0.0006</text>
<text transform="translate(608.6,66) rotate(-90)" font-size="9.8" fill="#111" text-anchor="middle" textLength="30" lengthAdjust="spacingAndGlyphs" stroke="#111" stroke-width="0.2"><tspan font-style="italic">p</tspan>=0.0014</text>
<rect x="622.8" y="29.8" width="8.4" height="8.2" fill="#fff" stroke="#333" stroke-width="1.2"/>
<text x="634.3" y="38.2" font-size="10.2" fill="#111" >Ch-PBS</text>
<rect x="622.8" y="42.7" width="8.4" height="8.2" fill="#b9d5f1" stroke="#333" stroke-width="1.2"/>
<text x="634.3" y="51.1" font-size="10.2" fill="#111" >HF-PBS</text>
<rect x="622.8" y="54.5" width="8.4" height="8.2" fill="#f27b7d" stroke="#333" stroke-width="1.2"/>
<text x="634.3" y="62.9" font-size="10.2" fill="#111" >HF-HHT</text>
<text x="-0.4" y="192.6" font-size="17.5" fill="#111" >D</text>
<line x1="61.3" y1="210.6" x2="61.3" y2="315" stroke="#151515" stroke-width="1.4"/>
<line x1="57.1" y1="315" x2="62" y2="315" stroke="#151515" stroke-width="1.4"/>
<text x="56.3" y="318.63" font-size="11.7" fill="#111" text-anchor="end" >0</text>
<line x1="57.1" y1="280.2" x2="62" y2="280.2" stroke="#151515" stroke-width="1.4"/>
<text x="56.3" y="283.83" font-size="11.7" fill="#111" text-anchor="end" >5</text>
<line x1="57.1" y1="245.4" x2="62" y2="245.4" stroke="#151515" stroke-width="1.4"/>
<text x="56.3" y="249.03" font-size="11.7" fill="#111" text-anchor="end" >10</text>
<line x1="57.1" y1="210.6" x2="62" y2="210.6" stroke="#151515" stroke-width="1.4"/>
<text x="56.3" y="214.23" font-size="11.7" fill="#111" text-anchor="end" >15</text>
<line x1="59.1" y1="297.6" x2="61.3" y2="297.6" stroke="#151515" stroke-width="1.4"/>
<line x1="59.1" y1="262.8" x2="61.3" y2="262.8" stroke="#151515" stroke-width="1.4"/>
<line x1="59.1" y1="228" x2="61.3" y2="228" stroke="#151515" stroke-width="1.4"/>
<text transform="translate(36.1,260) rotate(-90)" font-size="11.8" fill="#111" text-anchor="middle" textLength="114.5" lengthAdjust="spacingAndGlyphs" >Fasting glucose (mM)</text>
<rect x="67.3" y="279.4" width="19.5" height="35.6" fill="#fff" stroke="#151515" stroke-width="1.1"/>
<line x1="77.05" y1="275.3" x2="77.05" y2="283" stroke="#3a3a3a" stroke-width="1.0"/>
<line x1="72.55" y1="275.3" x2="81.55" y2="275.3" stroke="#3a3a3a" stroke-width="1.0"/>
<line x1="72.55" y1="283" x2="81.55" y2="283" stroke="#3a3a3a" stroke-width="1.0"/>
<circle cx="77" cy="267.7" r="2.4" fill="#000" stroke="#fff" stroke-width="0.5"/>
<circle cx="77" cy="281.4" r="2.4" fill="#000" stroke="#fff" stroke-width="0.5"/>
<circle cx="84.2" cy="281.4" r="2.4" fill="#000" stroke="#fff" stroke-width="0.5"/>
<circle cx="69.9" cy="284.1" r="2.4" fill="#000" stroke="#fff" stroke-width="0.5"/>
<rect x="93.3" y="255.5" width="18.3" height="59.5" fill="#8dbaf5" stroke="#151515" stroke-width="1.1"/>
<line x1="102.45" y1="251.6" x2="102.45" y2="259.5" stroke="#3a3a3a" stroke-width="1.0"/>
<line x1="97.95" y1="251.6" x2="106.95" y2="251.6" stroke="#3a3a3a" stroke-width="1.0"/>
<line x1="97.95" y1="259.5" x2="106.95" y2="259.5" stroke="#3a3a3a" stroke-width="1.0"/>
<circle cx="102.3" cy="236.4" r="2.4" fill="#000" stroke="#fff" stroke-width="0.5"/>
<circle cx="95.3" cy="246" r="2.4" fill="#000" stroke="#fff" stroke-width="0.5"/>
<circle cx="109.7" cy="246" r="2.4" fill="#000" stroke="#fff" stroke-width="0.5"/>
<circle cx="95.3" cy="253.9" r="2.4" fill="#000" stroke="#fff" stroke-width="0.5"/>
<circle cx="109.7" cy="251.8" r="2.4" fill="#000" stroke="#fff" stroke-width="0.5"/>
<circle cx="102.3" cy="258.6" r="2.4" fill="#000" stroke="#fff" stroke-width="0.5"/>
<circle cx="109.7" cy="257.4" r="2.4" fill="#000" stroke="#fff" stroke-width="0.5"/>
<circle cx="95.3" cy="266.2" r="2.4" fill="#000" stroke="#fff" stroke-width="0.5"/>
<circle cx="102.3" cy="265" r="2.4" fill="#000" stroke="#fff" stroke-width="0.5"/>
<circle cx="109.7" cy="265" r="2.4" fill="#000" stroke="#fff" stroke-width="0.5"/>
<rect x="118.6" y="267.4" width="18.8" height="47.6" fill="#fc9b9e" stroke="#151515" stroke-width="1.1"/>
<line x1="128" y1="263.9" x2="128" y2="271" stroke="#3a3a3a" stroke-width="1.0"/>
<line x1="123.5" y1="263.9" x2="132.5" y2="263.9" stroke="#3a3a3a" stroke-width="1.0"/>
<line x1="123.5" y1="271" x2="132.5" y2="271" stroke="#3a3a3a" stroke-width="1.0"/>
<circle cx="120.7" cy="258.6" r="2.4" fill="#000" stroke="#fff" stroke-width="0.5"/>
<circle cx="126.6" cy="256.9" r="2.4" fill="#000" stroke="#fff" stroke-width="0.5"/>
<circle cx="123.7" cy="264.8" r="2.4" fill="#000" stroke="#fff" stroke-width="0.5"/>
<circle cx="120.7" cy="266.6" r="2.4" fill="#000" stroke="#fff" stroke-width="0.5"/>
<circle cx="129.2" cy="266" r="2.4" fill="#000" stroke="#fff" stroke-width="0.5"/>
<circle cx="135" cy="266.8" r="2.4" fill="#000" stroke="#fff" stroke-width="0.5"/>
<circle cx="126.2" cy="268" r="2.4" fill="#000" stroke="#fff" stroke-width="0.5"/>
<circle cx="126.2" cy="273.8" r="2.4" fill="#000" stroke="#fff" stroke-width="0.5"/>
<line x1="60.6" y1="315" x2="143" y2="315" stroke="#151515" stroke-width="1.4"/>
<line x1="77" y1="312" x2="77" y2="318" stroke="#151515" stroke-width="1.4"/>
<line x1="102.4" y1="312" x2="102.4" y2="318" stroke="#151515" stroke-width="1.4"/>
<line x1="128" y1="312" x2="128" y2="318" stroke="#151515" stroke-width="1.4"/>
<text transform="translate(80,324.6) rotate(-45)" font-size="11.4" fill="#111" text-anchor="end" >Ch-PBS</text>
<text transform="translate(105.4,324.6) rotate(-45)" font-size="11.4" fill="#111" text-anchor="end" >HF-PBS</text>
<text transform="translate(131,324.6) rotate(-45)" font-size="11.4" fill="#111" text-anchor="end" >HF-HHT</text>
<polyline points="81,213.6 81,211 128.6,211 128.6,213.6" fill="none" stroke="#555" stroke-width="1.0" stroke-linejoin="miter"/>
<text x="105" y="205.8" font-size="10" fill="#111" text-anchor="middle" textLength="29.5" lengthAdjust="spacingAndGlyphs" stroke="#111" stroke-width="0.2"><tspan font-style="italic">p</tspan>=0.0254</text>
<polyline points="79.5,236.4 79.5,230 101.7,230 101.7,232.3" fill="none" stroke="#555" stroke-width="1.0" stroke-linejoin="miter"/>
<polyline points="105.2,232.3 105.2,230 128,230 128,236.4" fill="none" stroke="#555" stroke-width="1.0" stroke-linejoin="miter"/>
<text x="85.4" y="226" font-size="10" fill="#111" text-anchor="middle" textLength="29.5" lengthAdjust="spacingAndGlyphs" stroke="#111" stroke-width="0.2"><tspan font-style="italic">p</tspan>=0.0001</text>
<text x="123.3" y="226" font-size="10" fill="#111" text-anchor="middle" textLength="30.5" lengthAdjust="spacingAndGlyphs" stroke="#111" stroke-width="0.2"><tspan font-style="italic">p</tspan>=0.0193</text>
<text x="173.2" y="192.6" font-size="17.5" fill="#111" >E</text>
<line x1="236.9" y1="210.5" x2="236.9" y2="315" stroke="#151515" stroke-width="1.4"/>
<line x1="232.7" y1="315" x2="237.6" y2="315" stroke="#151515" stroke-width="1.4"/>
<text x="231.9" y="318.63" font-size="11.7" fill="#111" text-anchor="end" >0</text>
<line x1="232.7" y1="288.88" x2="237.6" y2="288.88" stroke="#151515" stroke-width="1.4"/>
<text x="231.9" y="292.5" font-size="11.7" fill="#111" text-anchor="end" >500</text>
<line x1="232.7" y1="262.75" x2="237.6" y2="262.75" stroke="#151515" stroke-width="1.4"/>
<text x="231.9" y="266.38" font-size="11.7" fill="#111" text-anchor="end" >1000</text>
<line x1="232.7" y1="236.62" x2="237.6" y2="236.62" stroke="#151515" stroke-width="1.4"/>
<text x="231.9" y="240.25" font-size="11.7" fill="#111" text-anchor="end" >1500</text>
<line x1="232.7" y1="210.5" x2="237.6" y2="210.5" stroke="#151515" stroke-width="1.4"/>
<text x="231.9" y="214.13" font-size="11.7" fill="#111" text-anchor="end" >2000</text>
<line x1="234.7" y1="301.94" x2="236.9" y2="301.94" stroke="#151515" stroke-width="1.4"/>
<line x1="234.7" y1="275.81" x2="236.9" y2="275.81" stroke="#151515" stroke-width="1.4"/>
<line x1="234.7" y1="249.69" x2="236.9" y2="249.69" stroke="#151515" stroke-width="1.4"/>
<line x1="234.7" y1="223.56" x2="236.9" y2="223.56" stroke="#151515" stroke-width="1.4"/>
<text transform="translate(199.3,260) rotate(-90)" font-size="11.8" fill="#111" text-anchor="middle" textLength="105.5" lengthAdjust="spacingAndGlyphs" >Fasting insulin (pM)</text>
<rect x="242.8" y="309.3" width="19" height="5.7" fill="#fff" stroke="#151515" stroke-width="1.1"/>
<line x1="252.3" y1="307.5" x2="252.3" y2="311" stroke="#3a3a3a" stroke-width="1.0"/>
<line x1="247.8" y1="307.5" x2="256.8" y2="307.5" stroke="#3a3a3a" stroke-width="1.0"/>
<line x1="247.8" y1="311" x2="256.8" y2="311" stroke="#3a3a3a" stroke-width="1.0"/>
<circle cx="245.3" cy="312.7" r="2.4" fill="#000" stroke="#fff" stroke-width="0.5"/>
<circle cx="252.7" cy="309.1" r="2.4" fill="#000" stroke="#fff" stroke-width="0.5"/>
<circle cx="259.6" cy="304.4" r="2.4" fill="#000" stroke="#fff" stroke-width="0.5"/>
<circle cx="259.6" cy="309.6" r="2.4" fill="#000" stroke="#fff" stroke-width="0.5"/>
<rect x="268.7" y="269.6" width="19" height="45.4" fill="#8dbaf5" stroke="#151515" stroke-width="1.1"/>
<line x1="278.2" y1="261.3" x2="278.2" y2="276.8" stroke="#3a3a3a" stroke-width="1.0"/>
<line x1="273.7" y1="261.3" x2="282.7" y2="261.3" stroke="#3a3a3a" stroke-width="1.0"/>
<line x1="273.7" y1="276.8" x2="282.7" y2="276.8" stroke="#3a3a3a" stroke-width="1.0"/>
<circle cx="278.1" cy="231" r="2.4" fill="#000" stroke="#fff" stroke-width="0.5"/>
<circle cx="278.1" cy="242.6" r="2.4" fill="#000" stroke="#fff" stroke-width="0.5"/>
<circle cx="285.2" cy="240.9" r="2.4" fill="#000" stroke="#fff" stroke-width="0.5"/>
<circle cx="278.1" cy="259.9" r="2.4" fill="#000" stroke="#fff" stroke-width="0.5"/>
<circle cx="285.2" cy="269.6" r="2.4" fill="#000" stroke="#fff" stroke-width="0.5"/>
<circle cx="278.1" cy="274.6" r="2.4" fill="#000" stroke="#fff" stroke-width="0.5"/>
<circle cx="278.1" cy="286.7" r="2.4" fill="#000" stroke="#fff" stroke-width="0.5"/>
<circle cx="278.1" cy="293.6" r="2.4" fill="#000" stroke="#fff" stroke-width="0.5"/>
<circle cx="271.2" cy="298.4" r="2.4" fill="#000" stroke="#fff" stroke-width="0.5"/>
<circle cx="285.2" cy="295.5" r="2.4" fill="#000" stroke="#fff" stroke-width="0.5"/>
<rect x="294.6" y="289.2" width="18.9" height="25.8" fill="#fc9b9e" stroke="#151515" stroke-width="1.1"/>
<line x1="304.05" y1="286.3" x2="304.05" y2="292" stroke="#3a3a3a" stroke-width="1.0"/>
<line x1="299.55" y1="286.3" x2="308.55" y2="286.3" stroke="#3a3a3a" stroke-width="1.0"/>
<line x1="299.55" y1="292" x2="308.55" y2="292" stroke="#3a3a3a" stroke-width="1.0"/>
<circle cx="301" cy="278.5" r="2.4" fill="#000" stroke="#fff" stroke-width="0.5"/>
<circle cx="305.9" cy="280.8" r="2.4" fill="#000" stroke="#fff" stroke-width="0.5"/>
<circle cx="296.7" cy="283.2" r="2.4" fill="#000" stroke="#fff" stroke-width="0.5"/>
<circle cx="301" cy="285.8" r="2.4" fill="#000" stroke="#fff" stroke-width="0.5"/>
<circle cx="310.5" cy="286.3" r="2.4" fill="#000" stroke="#fff" stroke-width="0.5"/>
<circle cx="296.7" cy="291.1" r="2.4" fill="#000" stroke="#fff" stroke-width="0.5"/>
<circle cx="305.9" cy="289.8" r="2.4" fill="#000" stroke="#fff" stroke-width="0.5"/>
<circle cx="310.5" cy="295" r="2.4" fill="#000" stroke="#fff" stroke-width="0.5"/>
<circle cx="296.7" cy="298.7" r="2.4" fill="#000" stroke="#fff" stroke-width="0.5"/>
<circle cx="305.9" cy="298.4" r="2.4" fill="#000" stroke="#fff" stroke-width="0.5"/>
<line x1="236.2" y1="315" x2="319.5" y2="315" stroke="#151515" stroke-width="1.4"/>
<line x1="252.3" y1="312" x2="252.3" y2="318" stroke="#151515" stroke-width="1.4"/>
<line x1="278.2" y1="312" x2="278.2" y2="318" stroke="#151515" stroke-width="1.4"/>
<line x1="304" y1="312" x2="304" y2="318" stroke="#151515" stroke-width="1.4"/>
<text transform="translate(255.3,324.6) rotate(-45)" font-size="11.4" fill="#111" text-anchor="end" >Ch-PBS</text>
<text transform="translate(281.2,324.6) rotate(-45)" font-size="11.4" fill="#111" text-anchor="end" >HF-PBS</text>
<text transform="translate(307,324.6) rotate(-45)" font-size="11.4" fill="#111" text-anchor="end" >HF-HHT</text>
<polyline points="252.4,243 252.4,220 278,220 278,225" fill="none" stroke="#151515" stroke-width="1.0" stroke-linejoin="miter"/>
<text x="265" y="215.2" font-size="10" fill="#111" text-anchor="middle" textLength="41" lengthAdjust="spacingAndGlyphs" ><tspan font-style="italic">p</tspan>=0.0025</text>
<text x="353.6" y="192.6" font-size="17.5" fill="#111" >F</text>
<line x1="393.5" y1="210.7" x2="393.5" y2="315" stroke="#151515" stroke-width="1.4"/>
<line x1="389.3" y1="315" x2="394.2" y2="315" stroke="#151515" stroke-width="1.4"/>
<text x="388.5" y="318.63" font-size="11.7" fill="#111" text-anchor="end" >0</text>
<line x1="389.3" y1="280.24" x2="394.2" y2="280.24" stroke="#151515" stroke-width="1.4"/>
<text x="388.5" y="283.86" font-size="11.7" fill="#111" text-anchor="end" >50</text>
<line x1="389.3" y1="245.47" x2="394.2" y2="245.47" stroke="#151515" stroke-width="1.4"/>
<text x="388.5" y="249.1" font-size="11.7" fill="#111" text-anchor="end" >100</text>
<line x1="389.3" y1="210.7" x2="394.2" y2="210.7" stroke="#151515" stroke-width="1.4"/>
<text x="388.5" y="214.33" font-size="11.7" fill="#111" text-anchor="end" >150</text>
<line x1="391.3" y1="297.62" x2="393.5" y2="297.62" stroke="#151515" stroke-width="1.4"/>
<line x1="391.3" y1="262.85" x2="393.5" y2="262.85" stroke="#151515" stroke-width="1.4"/>
<line x1="391.3" y1="228.09" x2="393.5" y2="228.09" stroke="#151515" stroke-width="1.4"/>
<text transform="translate(364.8,260) rotate(-90)" font-size="11.7" fill="#111" text-anchor="middle" textLength="51.3" lengthAdjust="spacingAndGlyphs" >HOMA-IR</text>
<rect x="404.5" y="279.1" width="20" height="35.9" fill="#8dbaf5" stroke="#151515" stroke-width="1.1"/>
<line x1="414.5" y1="271.5" x2="414.5" y2="286.9" stroke="#3a3a3a" stroke-width="1.0"/>
<line x1="410" y1="271.5" x2="419" y2="271.5" stroke="#3a3a3a" stroke-width="1.0"/>
<line x1="410" y1="286.9" x2="419" y2="286.9" stroke="#3a3a3a" stroke-width="1.0"/>
<circle cx="414.5" cy="233.6" r="2.4" fill="#000" stroke="#fff" stroke-width="0.5"/>
<circle cx="414.5" cy="252.2" r="2.4" fill="#000" stroke="#fff" stroke-width="0.5"/>
<circle cx="414.5" cy="258.5" r="2.4" fill="#000" stroke="#fff" stroke-width="0.5"/>
<circle cx="414.5" cy="273.3" r="2.4" fill="#000" stroke="#fff" stroke-width="0.5"/>
<circle cx="414.5" cy="280" r="2.4" fill="#000" stroke="#fff" stroke-width="0.5"/>
<circle cx="414.5" cy="286.9" r="2.4" fill="#000" stroke="#fff" stroke-width="0.5"/>
<circle cx="406.5" cy="297.8" r="2.4" fill="#000" stroke="#fff" stroke-width="0.5"/>
<circle cx="414.5" cy="300.9" r="2.4" fill="#000" stroke="#fff" stroke-width="0.5"/>
<circle cx="406.5" cy="303.3" r="2.4" fill="#000" stroke="#fff" stroke-width="0.5"/>
<circle cx="422.3" cy="302.7" r="2.4" fill="#000" stroke="#fff" stroke-width="0.5"/>
<rect x="432.3" y="300" width="20" height="15" fill="#fc9b9e" stroke="#151515" stroke-width="1.1"/>
<line x1="442.3" y1="298" x2="442.3" y2="302" stroke="#3a3a3a" stroke-width="1.0"/>
<line x1="437.8" y1="298" x2="446.8" y2="298" stroke="#3a3a3a" stroke-width="1.0"/>
<line x1="437.8" y1="302" x2="446.8" y2="302" stroke="#3a3a3a" stroke-width="1.0"/>
<circle cx="434.1" cy="294.2" r="2.4" fill="#000" stroke="#fff" stroke-width="0.5"/>
<circle cx="438.1" cy="297.8" r="2.4" fill="#000" stroke="#fff" stroke-width="0.5"/>
<circle cx="441.9" cy="294.9" r="2.4" fill="#000" stroke="#fff" stroke-width="0.5"/>
<circle cx="446.3" cy="297.8" r="2.4" fill="#000" stroke="#fff" stroke-width="0.5"/>
<circle cx="449.9" cy="294.9" r="2.4" fill="#000" stroke="#fff" stroke-width="0.5"/>
<circle cx="434.1" cy="303.6" r="2.4" fill="#000" stroke="#fff" stroke-width="0.5"/>
<circle cx="441.9" cy="303.3" r="2.4" fill="#000" stroke="#fff" stroke-width="0.5"/>
<circle cx="446.3" cy="302.7" r="2.4" fill="#000" stroke="#fff" stroke-width="0.5"/>
<circle cx="449.9" cy="306.9" r="2.4" fill="#000" stroke="#fff" stroke-width="0.5"/>
<circle cx="441.9" cy="300" r="2.4" fill="#000" stroke="#fff" stroke-width="0.5"/>
<line x1="392.8" y1="315" x2="464" y2="315" stroke="#151515" stroke-width="1.4"/>
<line x1="414.4" y1="312" x2="414.4" y2="318" stroke="#151515" stroke-width="1.4"/>
<line x1="442.4" y1="312" x2="442.4" y2="318" stroke="#151515" stroke-width="1.4"/>
<text transform="translate(417.4,324.6) rotate(-45)" font-size="11.4" fill="#111" text-anchor="end" >HF-PBS</text>
<text transform="translate(445.4,324.6) rotate(-45)" font-size="11.4" fill="#111" text-anchor="end" >HF-HHT</text>
<polyline points="414.5,229.5 414.5,224.5 442.6,224.5 442.6,260" fill="none" stroke="#222" stroke-width="1.1" stroke-linejoin="miter"/>
<text x="428.4" y="219.4" font-size="10" fill="#111" text-anchor="middle" textLength="41.5" lengthAdjust="spacingAndGlyphs" ><tspan font-style="italic">p</tspan>=0.0217</text>
<text x="482.7" y="192.6" font-size="17.5" fill="#111" >G</text>
<line x1="552.1" y1="210.5" x2="552.1" y2="315" stroke="#151515" stroke-width="1.4"/>
<line x1="547.9" y1="315" x2="552.8" y2="315" stroke="#151515" stroke-width="1.4"/>
<text x="547.1" y="318.63" font-size="11.7" fill="#111" text-anchor="end" >0</text>
<line x1="547.9" y1="262.75" x2="552.8" y2="262.75" stroke="#151515" stroke-width="1.4"/>
<text x="547.1" y="266.38" font-size="11.7" fill="#111" text-anchor="end" >500</text>
<line x1="547.9" y1="210.5" x2="552.8" y2="210.5" stroke="#151515" stroke-width="1.4"/>
<text x="547.1" y="214.13" font-size="11.7" fill="#111" text-anchor="end" >1000</text>
<line x1="549.9" y1="288.88" x2="552.1" y2="288.88" stroke="#151515" stroke-width="1.4"/>
<line x1="549.9" y1="236.62" x2="552.1" y2="236.62" stroke="#151515" stroke-width="1.4"/>
<text transform="translate(515.8,260.3) rotate(-90)" font-size="11.7" fill="#111" text-anchor="middle" textLength="54.5" lengthAdjust="spacingAndGlyphs" >HOMA-%β</text>
<rect x="563.4" y="266.2" width="20.2" height="48.8" fill="#8dbaf5" stroke="#151515" stroke-width="1.1"/>
<line x1="573.5" y1="259.7" x2="573.5" y2="272.3" stroke="#3a3a3a" stroke-width="1.0"/>
<line x1="569" y1="259.7" x2="578" y2="259.7" stroke="#3a3a3a" stroke-width="1.0"/>
<line x1="569" y1="272.3" x2="578" y2="272.3" stroke="#3a3a3a" stroke-width="1.0"/>
<circle cx="573.4" cy="240.5" r="2.4" fill="#000" stroke="#fff" stroke-width="0.5"/>
<circle cx="565.4" cy="248.5" r="2.4" fill="#000" stroke="#fff" stroke-width="0.5"/>
<circle cx="581.3" cy="244.7" r="2.4" fill="#000" stroke="#fff" stroke-width="0.5"/>
<circle cx="573.4" cy="255.1" r="2.4" fill="#000" stroke="#fff" stroke-width="0.5"/>
<circle cx="581.3" cy="253.1" r="2.4" fill="#000" stroke="#fff" stroke-width="0.5"/>
<circle cx="573.4" cy="271.9" r="2.4" fill="#000" stroke="#fff" stroke-width="0.5"/>
<circle cx="565.4" cy="278.5" r="2.4" fill="#000" stroke="#fff" stroke-width="0.5"/>
<circle cx="573.4" cy="280.2" r="2.4" fill="#000" stroke="#fff" stroke-width="0.5"/>
<circle cx="581.3" cy="290.2" r="2.4" fill="#000" stroke="#fff" stroke-width="0.5"/>
<circle cx="565.4" cy="294.8" r="2.4" fill="#000" stroke="#fff" stroke-width="0.5"/>
<rect x="590.9" y="262" width="20.5" height="53" fill="#fc9b9e" stroke="#151515" stroke-width="1.1"/>
<line x1="601.15" y1="254.7" x2="601.15" y2="268.3" stroke="#3a3a3a" stroke-width="1.0"/>
<line x1="596.65" y1="254.7" x2="605.65" y2="254.7" stroke="#3a3a3a" stroke-width="1.0"/>
<line x1="596.65" y1="268.3" x2="605.65" y2="268.3" stroke="#3a3a3a" stroke-width="1.0"/>
<circle cx="601" cy="214.4" r="2.4" fill="#000" stroke="#fff" stroke-width="0.5"/>
<circle cx="601" cy="244.1" r="2.4" fill="#000" stroke="#fff" stroke-width="0.5"/>
<circle cx="608.9" cy="251" r="2.4" fill="#000" stroke="#fff" stroke-width="0.5"/>
<circle cx="601" cy="255.1" r="2.4" fill="#000" stroke="#fff" stroke-width="0.5"/>
<circle cx="593" cy="267.7" r="2.4" fill="#000" stroke="#fff" stroke-width="0.5"/>
<circle cx="601" cy="266" r="2.4" fill="#000" stroke="#fff" stroke-width="0.5"/>
<circle cx="608.9" cy="268.1" r="2.4" fill="#000" stroke="#fff" stroke-width="0.5"/>
<circle cx="608.9" cy="276" r="2.4" fill="#000" stroke="#fff" stroke-width="0.5"/>
<circle cx="601" cy="280.2" r="2.4" fill="#000" stroke="#fff" stroke-width="0.5"/>
<circle cx="601" cy="293.8" r="2.4" fill="#000" stroke="#fff" stroke-width="0.5"/>
<line x1="551.4" y1="315" x2="623" y2="315" stroke="#151515" stroke-width="1.4"/>
<line x1="573.4" y1="312" x2="573.4" y2="318" stroke="#151515" stroke-width="1.4"/>
<line x1="601" y1="312" x2="601" y2="318" stroke="#151515" stroke-width="1.4"/>
<text transform="translate(576.4,324.6) rotate(-45)" font-size="11.4" fill="#111" text-anchor="end" >HF-PBS</text>
<text transform="translate(604,324.6) rotate(-45)" font-size="11.4" fill="#111" text-anchor="end" >HF-HHT</text>
<text x="-0.4" y="382.2" font-size="17.5" fill="#111" >H</text>
<line x1="39.4" y1="406.9" x2="39.4" y2="511" stroke="#151515" stroke-width="1.4"/>
<line x1="35.2" y1="511" x2="40.1" y2="511" stroke="#151515" stroke-width="1.4"/>
<text x="34.4" y="514.63" font-size="11.7" fill="#111" text-anchor="end" >0</text>
<line x1="35.2" y1="476.3" x2="40.1" y2="476.3" stroke="#151515" stroke-width="1.4"/>
<text x="34.4" y="479.93" font-size="11.7" fill="#111" text-anchor="end" >10</text>
<line x1="35.2" y1="441.6" x2="40.1" y2="441.6" stroke="#151515" stroke-width="1.4"/>
<text x="34.4" y="445.23" font-size="11.7" fill="#111" text-anchor="end" >20</text>
<line x1="35.2" y1="406.9" x2="40.1" y2="406.9" stroke="#151515" stroke-width="1.4"/>
<text x="34.4" y="410.53" font-size="11.7" fill="#111" text-anchor="end" >30</text>
<line x1="37.2" y1="502.32" x2="39.4" y2="502.32" stroke="#151515" stroke-width="1.4"/>
<line x1="37.2" y1="493.65" x2="39.4" y2="493.65" stroke="#151515" stroke-width="1.4"/>
<line x1="37.2" y1="484.98" x2="39.4" y2="484.98" stroke="#151515" stroke-width="1.4"/>
<line x1="37.2" y1="467.62" x2="39.4" y2="467.62" stroke="#151515" stroke-width="1.4"/>
<line x1="37.2" y1="458.95" x2="39.4" y2="458.95" stroke="#151515" stroke-width="1.4"/>
<line x1="37.2" y1="450.27" x2="39.4" y2="450.27" stroke="#151515" stroke-width="1.4"/>
<line x1="37.2" y1="432.93" x2="39.4" y2="432.93" stroke="#151515" stroke-width="1.4"/>
<line x1="37.2" y1="424.25" x2="39.4" y2="424.25" stroke="#151515" stroke-width="1.4"/>
<line x1="37.2" y1="415.57" x2="39.4" y2="415.57" stroke="#151515" stroke-width="1.4"/>
<line x1="38.7" y1="511" x2="183.3" y2="511" stroke="#151515" stroke-width="1.4"/>
<line x1="39.4" y1="508" x2="39.4" y2="514" stroke="#151515" stroke-width="1.4"/>
<text x="39.4" y="525.6" font-size="11.6" fill="#111" text-anchor="middle" >0</text>
<line x1="75.38" y1="508" x2="75.38" y2="514" stroke="#151515" stroke-width="1.4"/>
<text x="75.38" y="525.6" font-size="11.6" fill="#111" text-anchor="middle" >30</text>
<line x1="111.35" y1="508" x2="111.35" y2="514" stroke="#151515" stroke-width="1.4"/>
<text x="111.35" y="525.6" font-size="11.6" fill="#111" text-anchor="middle" >60</text>
<line x1="147.33" y1="508" x2="147.33" y2="514" stroke="#151515" stroke-width="1.4"/>
<text x="147.33" y="525.6" font-size="11.6" fill="#111" text-anchor="middle" >90</text>
<line x1="183.3" y1="508" x2="183.3" y2="514" stroke="#151515" stroke-width="1.4"/>
<text x="183.3" y="525.6" font-size="11.6" fill="#111" text-anchor="middle" >120</text>
<line x1="57.39" y1="509.5" x2="57.39" y2="512.5" stroke="#151515" stroke-width="1.4"/>
<line x1="93.36" y1="509.5" x2="93.36" y2="512.5" stroke="#151515" stroke-width="1.4"/>
<line x1="129.34" y1="509.5" x2="129.34" y2="512.5" stroke="#151515" stroke-width="1.4"/>
<line x1="165.32" y1="509.5" x2="165.32" y2="512.5" stroke="#151515" stroke-width="1.4"/>
<text x="112.1" y="540" font-size="11.5" fill="#111" text-anchor="middle" textLength="128.8" lengthAdjust="spacingAndGlyphs" >Time after injection (min)</text>
<text transform="translate(14.8,456.6) rotate(-90)" font-size="11.8" fill="#111" text-anchor="middle" textLength="75.5" lengthAdjust="spacingAndGlyphs" >Glucose (mM)</text>
<polyline points="39.4,493 57.39,462 75.38,467.5 111.35,474.6 147.33,477.6 183.3,478.6" fill="none" stroke="#151515" stroke-width="1.2" stroke-linejoin="miter"/>
<polyline points="39.4,486.8 57.39,446.8 75.38,449.7 111.35,457.6 147.33,463.6 183.3,472" fill="none" stroke="#151515" stroke-width="1.2" stroke-linejoin="miter"/>
<polyline points="39.4,480.8 57.39,433.2 75.38,423.9 111.35,426.4 147.33,432 183.3,449" fill="none" stroke="#151515" stroke-width="1.2" stroke-linejoin="miter"/>
<line x1="57.39" y1="458.3" x2="57.39" y2="465.7" stroke="#3a3a3a" stroke-width="1.0"/>
<line x1="54.99" y1="458.3" x2="59.79" y2="458.3" stroke="#3a3a3a" stroke-width="1.0"/>
<line x1="54.99" y1="465.7" x2="59.79" y2="465.7" stroke="#3a3a3a" stroke-width="1.0"/>
<line x1="75.38" y1="463.2" x2="75.38" y2="471.8" stroke="#3a3a3a" stroke-width="1.0"/>
<line x1="72.98" y1="463.2" x2="77.78" y2="463.2" stroke="#3a3a3a" stroke-width="1.0"/>
<line x1="72.98" y1="471.8" x2="77.78" y2="471.8" stroke="#3a3a3a" stroke-width="1.0"/>
<line x1="111.35" y1="470.4" x2="111.35" y2="478.8" stroke="#3a3a3a" stroke-width="1.0"/>
<line x1="108.95" y1="470.4" x2="113.75" y2="470.4" stroke="#3a3a3a" stroke-width="1.0"/>
<line x1="108.95" y1="478.8" x2="113.75" y2="478.8" stroke="#3a3a3a" stroke-width="1.0"/>
<line x1="147.33" y1="472.1" x2="147.33" y2="483.1" stroke="#3a3a3a" stroke-width="1.0"/>
<line x1="144.93" y1="472.1" x2="149.73" y2="472.1" stroke="#3a3a3a" stroke-width="1.0"/>
<line x1="144.93" y1="483.1" x2="149.73" y2="483.1" stroke="#3a3a3a" stroke-width="1.0"/>
<line x1="183.3" y1="474.1" x2="183.3" y2="483.1" stroke="#3a3a3a" stroke-width="1.0"/>
<line x1="180.9" y1="474.1" x2="185.7" y2="474.1" stroke="#3a3a3a" stroke-width="1.0"/>
<line x1="180.9" y1="483.1" x2="185.7" y2="483.1" stroke="#3a3a3a" stroke-width="1.0"/>
<circle cx="39.4" cy="493" r="3" fill="#fff" stroke="#111" stroke-width="1.2"/>
<circle cx="57.39" cy="462" r="3" fill="#fff" stroke="#111" stroke-width="1.2"/>
<circle cx="75.38" cy="467.5" r="3" fill="#fff" stroke="#111" stroke-width="1.2"/>
<circle cx="111.35" cy="474.6" r="3" fill="#fff" stroke="#111" stroke-width="1.2"/>
<circle cx="147.33" cy="477.6" r="3" fill="#fff" stroke="#111" stroke-width="1.2"/>
<circle cx="183.3" cy="478.6" r="3" fill="#fff" stroke="#111" stroke-width="1.2"/>
<line x1="57.39" y1="444.3" x2="57.39" y2="449.3" stroke="#3a3a3a" stroke-width="1.0"/>
<line x1="54.99" y1="444.3" x2="59.79" y2="444.3" stroke="#3a3a3a" stroke-width="1.0"/>
<line x1="54.99" y1="449.3" x2="59.79" y2="449.3" stroke="#3a3a3a" stroke-width="1.0"/>
<line x1="75.38" y1="446.2" x2="75.38" y2="453.2" stroke="#3a3a3a" stroke-width="1.0"/>
<line x1="72.98" y1="446.2" x2="77.78" y2="446.2" stroke="#3a3a3a" stroke-width="1.0"/>
<line x1="72.98" y1="453.2" x2="77.78" y2="453.2" stroke="#3a3a3a" stroke-width="1.0"/>
<line x1="111.35" y1="454.8" x2="111.35" y2="460.4" stroke="#3a3a3a" stroke-width="1.0"/>
<line x1="108.95" y1="454.8" x2="113.75" y2="454.8" stroke="#3a3a3a" stroke-width="1.0"/>
<line x1="108.95" y1="460.4" x2="113.75" y2="460.4" stroke="#3a3a3a" stroke-width="1.0"/>
<line x1="147.33" y1="460.8" x2="147.33" y2="466.4" stroke="#3a3a3a" stroke-width="1.0"/>
<line x1="144.93" y1="460.8" x2="149.73" y2="460.8" stroke="#3a3a3a" stroke-width="1.0"/>
<line x1="144.93" y1="466.4" x2="149.73" y2="466.4" stroke="#3a3a3a" stroke-width="1.0"/>
<line x1="183.3" y1="469.2" x2="183.3" y2="474.8" stroke="#3a3a3a" stroke-width="1.0"/>
<line x1="180.9" y1="469.2" x2="185.7" y2="469.2" stroke="#3a3a3a" stroke-width="1.0"/>
<line x1="180.9" y1="474.8" x2="185.7" y2="474.8" stroke="#3a3a3a" stroke-width="1.0"/>
<circle cx="39.4" cy="486.8" r="3" fill="#f28b8c" stroke="#111" stroke-width="1.2"/>
<circle cx="57.39" cy="446.8" r="3" fill="#f28b8c" stroke="#111" stroke-width="1.2"/>
<circle cx="75.38" cy="449.7" r="3" fill="#f28b8c" stroke="#111" stroke-width="1.2"/>
<circle cx="111.35" cy="457.6" r="3" fill="#f28b8c" stroke="#111" stroke-width="1.2"/>
<circle cx="147.33" cy="463.6" r="3" fill="#f28b8c" stroke="#111" stroke-width="1.2"/>
<circle cx="183.3" cy="472" r="3" fill="#f28b8c" stroke="#111" stroke-width="1.2"/>
<line x1="57.39" y1="427.9" x2="57.39" y2="438.5" stroke="#3a3a3a" stroke-width="1.0"/>
<line x1="54.99" y1="427.9" x2="59.79" y2="427.9" stroke="#3a3a3a" stroke-width="1.0"/>
<line x1="54.99" y1="438.5" x2="59.79" y2="438.5" stroke="#3a3a3a" stroke-width="1.0"/>
<line x1="75.38" y1="420.1" x2="75.38" y2="427.7" stroke="#3a3a3a" stroke-width="1.0"/>
<line x1="72.98" y1="420.1" x2="77.78" y2="420.1" stroke="#3a3a3a" stroke-width="1.0"/>
<line x1="72.98" y1="427.7" x2="77.78" y2="427.7" stroke="#3a3a3a" stroke-width="1.0"/>
<line x1="111.35" y1="421.9" x2="111.35" y2="430.9" stroke="#3a3a3a" stroke-width="1.0"/>
<line x1="108.95" y1="421.9" x2="113.75" y2="421.9" stroke="#3a3a3a" stroke-width="1.0"/>
<line x1="108.95" y1="430.9" x2="113.75" y2="430.9" stroke="#3a3a3a" stroke-width="1.0"/>
<line x1="147.33" y1="427.2" x2="147.33" y2="436.8" stroke="#3a3a3a" stroke-width="1.0"/>
<line x1="144.93" y1="427.2" x2="149.73" y2="427.2" stroke="#3a3a3a" stroke-width="1.0"/>
<line x1="144.93" y1="436.8" x2="149.73" y2="436.8" stroke="#3a3a3a" stroke-width="1.0"/>
<line x1="183.3" y1="444.5" x2="183.3" y2="453.5" stroke="#3a3a3a" stroke-width="1.0"/>
<line x1="180.9" y1="444.5" x2="185.7" y2="444.5" stroke="#3a3a3a" stroke-width="1.0"/>
<line x1="180.9" y1="453.5" x2="185.7" y2="453.5" stroke="#3a3a3a" stroke-width="1.0"/>
<circle cx="39.4" cy="480.8" r="3" fill="#8db8ee" stroke="#111" stroke-width="1.2"/>
<circle cx="57.39" cy="433.2" r="3" fill="#8db8ee" stroke="#111" stroke-width="1.2"/>
<circle cx="75.38" cy="423.9" r="3" fill="#8db8ee" stroke="#111" stroke-width="1.2"/>
<circle cx="111.35" cy="426.4" r="3" fill="#8db8ee" stroke="#111" stroke-width="1.2"/>
<circle cx="147.33" cy="432" r="3" fill="#8db8ee" stroke="#111" stroke-width="1.2"/>
<circle cx="183.3" cy="449" r="3" fill="#8db8ee" stroke="#111" stroke-width="1.2"/>
<text x="73" y="416.6" font-size="8.8" fill="#111" text-anchor="middle" textLength="36" lengthAdjust="spacingAndGlyphs" ><tspan font-style="italic">p</tspan>=1.8E-8</text>
<text x="114" y="420" font-size="8.8" fill="#111" text-anchor="middle" textLength="40" lengthAdjust="spacingAndGlyphs" ><tspan font-style="italic">p</tspan>=9.1E-10</text>
<text x="152.2" y="425" font-size="8.8" fill="#111" text-anchor="middle" textLength="35.6" lengthAdjust="spacingAndGlyphs" ><tspan font-style="italic">p</tspan>=4.9E-9</text>
<text x="190.3" y="441.6" font-size="8.8" fill="#111" text-anchor="middle" textLength="34.6" lengthAdjust="spacingAndGlyphs" ><tspan font-style="italic">p</tspan>=0.0001</text>
<text x="83.8" y="444" font-size="8.8" fill="#111" text-anchor="middle" textLength="35.6" lengthAdjust="spacingAndGlyphs" ><tspan font-style="italic">p</tspan>=9.7E-6</text>
<text x="118.4" y="451.6" font-size="8.8" fill="#111" text-anchor="middle" textLength="36" lengthAdjust="spacingAndGlyphs" ><tspan font-style="italic">p</tspan>=1.4E-7</text>
<text x="153.5" y="458" font-size="8.8" fill="#111" text-anchor="middle" textLength="35" lengthAdjust="spacingAndGlyphs" ><tspan font-style="italic">p</tspan>=8.1E-8</text>
<text x="187.2" y="467" font-size="8.8" fill="#111" text-anchor="middle" textLength="28.4" lengthAdjust="spacingAndGlyphs" ><tspan font-style="italic">p</tspan>=7E-5</text>
<circle cx="50.6" cy="500.8" r="3.9" fill="#4a8fdb" stroke="#000" stroke-width="1.3"/>
<text x="58.2" y="504.6" font-size="10.2" fill="#111" >HF-PBS</text>
<circle cx="104.3" cy="500.8" r="3.9" fill="#f0832d" stroke="#000" stroke-width="1.3"/>
<text x="111.3" y="504.6" font-size="10.2" fill="#111" >HF-HHT</text>
<circle cx="156.8" cy="500.8" r="3.9" fill="#fff" stroke="#000" stroke-width="1.3"/>
<text x="164.8" y="504.6" font-size="10.2" fill="#111" textLength="37.5" lengthAdjust="spacingAndGlyphs" >Ch-PBS</text>
<text x="197.4" y="382.2" font-size="17.5" fill="#111" >I</text>
<line x1="260.9" y1="406.7" x2="260.9" y2="510.8" stroke="#333" stroke-width="1.4"/>
<line x1="256.7" y1="510.8" x2="261.6" y2="510.8" stroke="#333" stroke-width="1.4"/>
<text x="255.9" y="514.43" font-size="11.7" fill="#111" text-anchor="end" >0</text>
<line x1="256.7" y1="484.78" x2="261.6" y2="484.78" stroke="#333" stroke-width="1.4"/>
<text x="255.9" y="488.4" font-size="11.7" fill="#111" text-anchor="end" >1000</text>
<line x1="256.7" y1="458.75" x2="261.6" y2="458.75" stroke="#333" stroke-width="1.4"/>
<text x="255.9" y="462.38" font-size="11.7" fill="#111" text-anchor="end" >2000</text>
<line x1="256.7" y1="432.73" x2="261.6" y2="432.73" stroke="#333" stroke-width="1.4"/>
<text x="255.9" y="436.35" font-size="11.7" fill="#111" text-anchor="end" >3000</text>
<line x1="256.7" y1="406.7" x2="261.6" y2="406.7" stroke="#333" stroke-width="1.4"/>
<text x="255.9" y="410.33" font-size="11.7" fill="#111" text-anchor="end" >4000</text>
<text transform="translate(224,456.8) rotate(-90)" font-size="9.5" fill="#111" text-anchor="middle" textLength="117.5" lengthAdjust="spacingAndGlyphs" >Glucose AUC (arbitrary unit)</text>
<rect x="267.1" y="478.6" width="19.1" height="32.4" fill="#fff" stroke="#151515" stroke-width="1.1"/>
<line x1="276.65" y1="474.5" x2="276.65" y2="482.3" stroke="#3a3a3a" stroke-width="1.0"/>
<line x1="272.15" y1="474.5" x2="281.15" y2="474.5" stroke="#3a3a3a" stroke-width="1.0"/>
<line x1="272.15" y1="482.3" x2="281.15" y2="482.3" stroke="#3a3a3a" stroke-width="1.0"/>
<circle cx="276.5" cy="468.1" r="2.4" fill="#000" stroke="#fff" stroke-width="0.5"/>
<circle cx="276.5" cy="478.1" r="2.4" fill="#000" stroke="#fff" stroke-width="0.5"/>
<circle cx="269.3" cy="485" r="2.4" fill="#000" stroke="#fff" stroke-width="0.5"/>
<circle cx="283.8" cy="482.3" r="2.4" fill="#000" stroke="#fff" stroke-width="0.5"/>
<rect x="292.5" y="444.6" width="19" height="66.4" fill="#8dbaf5" stroke="#151515" stroke-width="1.1"/>
<line x1="302" y1="440.1" x2="302" y2="448.3" stroke="#3a3a3a" stroke-width="1.0"/>
<line x1="297.5" y1="440.1" x2="306.5" y2="440.1" stroke="#3a3a3a" stroke-width="1.0"/>
<line x1="297.5" y1="448.3" x2="306.5" y2="448.3" stroke="#3a3a3a" stroke-width="1.0"/>
<circle cx="294.7" cy="423.5" r="2.4" fill="#000" stroke="#fff" stroke-width="0.5"/>
<circle cx="308.9" cy="427.2" r="2.4" fill="#000" stroke="#fff" stroke-width="0.5"/>
<circle cx="308.9" cy="437.2" r="2.4" fill="#000" stroke="#fff" stroke-width="0.5"/>
<circle cx="302" cy="438.6" r="2.4" fill="#000" stroke="#fff" stroke-width="0.5"/>
<circle cx="308.9" cy="444.1" r="2.4" fill="#000" stroke="#fff" stroke-width="0.5"/>
<circle cx="294.7" cy="450.1" r="2.4" fill="#000" stroke="#fff" stroke-width="0.5"/>
<circle cx="302" cy="453.7" r="2.4" fill="#000" stroke="#fff" stroke-width="0.5"/>
<circle cx="308.9" cy="451.9" r="2.4" fill="#000" stroke="#fff" stroke-width="0.5"/>
<circle cx="294.7" cy="459.2" r="2.4" fill="#000" stroke="#fff" stroke-width="0.5"/>
<circle cx="308.9" cy="458.1" r="2.4" fill="#000" stroke="#fff" stroke-width="0.5"/>
<rect x="318" y="464.5" width="18.5" height="46.5" fill="#fc9b9e" stroke="#151515" stroke-width="1.1"/>
<line x1="327.25" y1="461.4" x2="327.25" y2="467.5" stroke="#3a3a3a" stroke-width="1.0"/>
<line x1="322.75" y1="461.4" x2="331.75" y2="461.4" stroke="#3a3a3a" stroke-width="1.0"/>
<line x1="322.75" y1="467.5" x2="331.75" y2="467.5" stroke="#3a3a3a" stroke-width="1.0"/>
<circle cx="324.7" cy="454.6" r="2.4" fill="#000" stroke="#fff" stroke-width="0.5"/>
<circle cx="329.6" cy="453.5" r="2.4" fill="#000" stroke="#fff" stroke-width="0.5"/>
<circle cx="334.4" cy="452.8" r="2.4" fill="#000" stroke="#fff" stroke-width="0.5"/>
<circle cx="319.8" cy="467.7" r="2.4" fill="#000" stroke="#fff" stroke-width="0.5"/>
<circle cx="324.7" cy="464.5" r="2.4" fill="#000" stroke="#fff" stroke-width="0.5"/>
<circle cx="329.6" cy="466.8" r="2.4" fill="#000" stroke="#fff" stroke-width="0.5"/>
<circle cx="334.4" cy="464.5" r="2.4" fill="#000" stroke="#fff" stroke-width="0.5"/>
<circle cx="324.7" cy="473.2" r="2.4" fill="#000" stroke="#fff" stroke-width="0.5"/>
<circle cx="324.7" cy="479.2" r="2.4" fill="#000" stroke="#fff" stroke-width="0.5"/>
<line x1="260.2" y1="510.8" x2="343" y2="510.8" stroke="#333" stroke-width="1.4"/>
<line x1="276.5" y1="507.8" x2="276.5" y2="513.8" stroke="#333" stroke-width="1.4"/>
<line x1="302" y1="507.8" x2="302" y2="513.8" stroke="#333" stroke-width="1.4"/>
<line x1="327.4" y1="507.8" x2="327.4" y2="513.8" stroke="#333" stroke-width="1.4"/>
<text transform="translate(279.5,520.6) rotate(-45)" font-size="11.4" fill="#111" text-anchor="end" >Ch-PBS</text>
<text transform="translate(305,520.6) rotate(-45)" font-size="11.4" fill="#111" text-anchor="end" >HF-PBS</text>
<text transform="translate(330.4,520.6) rotate(-45)" font-size="11.4" fill="#111" text-anchor="end" >HF-HHT</text>
<polyline points="275.1,424.1 275.1,416.6 328.4,416.6 328.4,424.1" fill="none" stroke="#555" stroke-width="1.0" stroke-linejoin="miter"/>
<line x1="302" y1="416.6" x2="302" y2="419" stroke="#aaa" stroke-width="1.6"/>
<text x="286.6" y="413" font-size="8.9" fill="#111" text-anchor="middle" textLength="30" lengthAdjust="spacingAndGlyphs" stroke="#111" stroke-width="0.2"><tspan font-style="italic">p</tspan>=8.0E-5</text>
<text x="321" y="413" font-size="8.9" fill="#111" text-anchor="middle" textLength="30" lengthAdjust="spacingAndGlyphs" stroke="#111" stroke-width="0.2"><tspan font-style="italic">p</tspan>=0.0017</text>
<text x="354.4" y="382.2" font-size="17.5" fill="#111" >J</text>
<line x1="399.6" y1="407.2" x2="399.6" y2="511" stroke="#151515" stroke-width="1.4"/>
<line x1="395.4" y1="511" x2="400.3" y2="511" stroke="#151515" stroke-width="1.4"/>
<text x="394.6" y="514.63" font-size="11.7" fill="#111" text-anchor="end" >0</text>
<line x1="395.4" y1="476.4" x2="400.3" y2="476.4" stroke="#151515" stroke-width="1.4"/>
<text x="394.6" y="480.03" font-size="11.7" fill="#111" text-anchor="end" >500</text>
<line x1="395.4" y1="441.8" x2="400.3" y2="441.8" stroke="#151515" stroke-width="1.4"/>
<text x="394.6" y="445.43" font-size="11.7" fill="#111" text-anchor="end" >1000</text>
<line x1="395.4" y1="407.2" x2="400.3" y2="407.2" stroke="#151515" stroke-width="1.4"/>
<text x="394.6" y="410.83" font-size="11.7" fill="#111" text-anchor="end" >1500</text>
<line x1="397.4" y1="493.7" x2="399.6" y2="493.7" stroke="#151515" stroke-width="1.4"/>
<line x1="397.4" y1="459.1" x2="399.6" y2="459.1" stroke="#151515" stroke-width="1.4"/>
<line x1="397.4" y1="424.5" x2="399.6" y2="424.5" stroke="#151515" stroke-width="1.4"/>
<line x1="398.9" y1="511" x2="522.9" y2="511" stroke="#151515" stroke-width="1.4"/>
<line x1="399.6" y1="508" x2="399.6" y2="514" stroke="#151515" stroke-width="1.4"/>
<text x="399.6" y="525.6" font-size="11.6" fill="#111" text-anchor="middle" >0</text>
<line x1="440.7" y1="508" x2="440.7" y2="514" stroke="#151515" stroke-width="1.4"/>
<text x="440.7" y="525.6" font-size="11.6" fill="#111" text-anchor="middle" >20</text>
<line x1="481.8" y1="508" x2="481.8" y2="514" stroke="#151515" stroke-width="1.4"/>
<text x="481.8" y="525.6" font-size="11.6" fill="#111" text-anchor="middle" >40</text>
<line x1="522.9" y1="508" x2="522.9" y2="514" stroke="#151515" stroke-width="1.4"/>
<text x="522.9" y="525.6" font-size="11.6" fill="#111" text-anchor="middle" >60</text>
<line x1="420.15" y1="509.5" x2="420.15" y2="512.5" stroke="#151515" stroke-width="1.4"/>
<line x1="461.25" y1="509.5" x2="461.25" y2="512.5" stroke="#151515" stroke-width="1.4"/>
<line x1="502.35" y1="509.5" x2="502.35" y2="512.5" stroke="#151515" stroke-width="1.4"/>
<text x="462" y="540" font-size="11.5" fill="#111" text-anchor="middle" textLength="128.8" lengthAdjust="spacingAndGlyphs" >Time after injection (min)</text>
<text transform="translate(365.4,456.6) rotate(-90)" font-size="11.8" fill="#111" text-anchor="middle" textLength="63.7" lengthAdjust="spacingAndGlyphs" >Insulin (pM)</text>
<polyline points="399.6,503.6 430.43,496.6 461.25,497.4 522.9,500" fill="none" stroke="#151515" stroke-width="1.2" stroke-linejoin="miter"/>
<polyline points="399.6,450.4 430.43,444 461.25,458.4 522.9,455" fill="none" stroke="#151515" stroke-width="1.2" stroke-linejoin="miter"/>
<polyline points="399.6,468.4 430.43,426.4 461.25,448.6 522.9,448" fill="none" stroke="#151515" stroke-width="1.2" stroke-linejoin="miter"/>
<line x1="396.2" y1="440.2" x2="403" y2="440.2" stroke="#888" stroke-width="1.0"/>
<line x1="396.2" y1="460.2" x2="403" y2="460.2" stroke="#111" stroke-width="1.1"/>
<line x1="396.2" y1="476.8" x2="403" y2="476.8" stroke="#999" stroke-width="1.0"/>
<line x1="430.43" y1="418.4" x2="430.43" y2="435" stroke="#3a3a3a" stroke-width="1.0"/>
<line x1="428.03" y1="418.4" x2="432.82" y2="418.4" stroke="#3a3a3a" stroke-width="1.0"/>
<line x1="428.03" y1="435" x2="432.82" y2="435" stroke="#3a3a3a" stroke-width="1.0"/>
<line x1="430.43" y1="435" x2="430.43" y2="452" stroke="#3a3a3a" stroke-width="1.0"/>
<line x1="428.03" y1="435" x2="432.82" y2="435" stroke="#3a3a3a" stroke-width="1.0"/>
<line x1="428.03" y1="452" x2="432.82" y2="452" stroke="#3a3a3a" stroke-width="1.0"/>
<line x1="461.25" y1="441.6" x2="461.25" y2="452" stroke="#3a3a3a" stroke-width="1.0"/>
<line x1="458.85" y1="441.6" x2="463.65" y2="441.6" stroke="#3a3a3a" stroke-width="1.0"/>
<line x1="458.85" y1="452" x2="463.65" y2="452" stroke="#3a3a3a" stroke-width="1.0"/>
<line x1="461.25" y1="452" x2="461.25" y2="465.6" stroke="#3a3a3a" stroke-width="1.0"/>
<line x1="458.85" y1="452" x2="463.65" y2="452" stroke="#3a3a3a" stroke-width="1.0"/>
<line x1="458.85" y1="465.6" x2="463.65" y2="465.6" stroke="#3a3a3a" stroke-width="1.0"/>
<line x1="522.9" y1="439" x2="522.9" y2="452" stroke="#3a3a3a" stroke-width="1.0"/>
<line x1="520.5" y1="439" x2="525.3" y2="439" stroke="#3a3a3a" stroke-width="1.0"/>
<line x1="520.5" y1="452" x2="525.3" y2="452" stroke="#3a3a3a" stroke-width="1.0"/>
<line x1="522.9" y1="452" x2="522.9" y2="462" stroke="#3a3a3a" stroke-width="1.0"/>
<line x1="520.5" y1="452" x2="525.3" y2="452" stroke="#3a3a3a" stroke-width="1.0"/>
<line x1="520.5" y1="462" x2="525.3" y2="462" stroke="#3a3a3a" stroke-width="1.0"/>
<line x1="430.43" y1="493.5" x2="430.43" y2="499.7" stroke="#3a3a3a" stroke-width="1.0"/>
<line x1="428.03" y1="493.5" x2="432.82" y2="493.5" stroke="#3a3a3a" stroke-width="1.0"/>
<line x1="428.03" y1="499.7" x2="432.82" y2="499.7" stroke="#3a3a3a" stroke-width="1.0"/>
<line x1="461.25" y1="494" x2="461.25" y2="500.8" stroke="#3a3a3a" stroke-width="1.0"/>
<line x1="458.85" y1="494" x2="463.65" y2="494" stroke="#3a3a3a" stroke-width="1.0"/>
<line x1="458.85" y1="500.8" x2="463.65" y2="500.8" stroke="#3a3a3a" stroke-width="1.0"/>
<line x1="522.9" y1="497" x2="522.9" y2="503" stroke="#3a3a3a" stroke-width="1.0"/>
<line x1="520.5" y1="497" x2="525.3" y2="497" stroke="#3a3a3a" stroke-width="1.0"/>
<line x1="520.5" y1="503" x2="525.3" y2="503" stroke="#3a3a3a" stroke-width="1.0"/>
<circle cx="399.6" cy="503.6" r="3" fill="#fff" stroke="#111" stroke-width="1.2"/>
<circle cx="430.43" cy="496.6" r="3" fill="#fff" stroke="#111" stroke-width="1.2"/>
<circle cx="461.25" cy="497.4" r="3" fill="#fff" stroke="#111" stroke-width="1.2"/>
<circle cx="522.9" cy="500" r="3" fill="#fff" stroke="#111" stroke-width="1.2"/>
<circle cx="399.6" cy="450.4" r="3" fill="#8db8ee" stroke="#111" stroke-width="1.2"/>
<circle cx="430.43" cy="444" r="3" fill="#8db8ee" stroke="#111" stroke-width="1.2"/>
<circle cx="461.25" cy="458.4" r="3" fill="#8db8ee" stroke="#111" stroke-width="1.2"/>
<circle cx="522.9" cy="455" r="3" fill="#8db8ee" stroke="#111" stroke-width="1.2"/>
<circle cx="399.6" cy="468.4" r="3" fill="#f28b8c" stroke="#111" stroke-width="1.2"/>
<circle cx="430.43" cy="426.4" r="3" fill="#f28b8c" stroke="#111" stroke-width="1.2"/>
<circle cx="461.25" cy="448.6" r="3" fill="#f28b8c" stroke="#111" stroke-width="1.2"/>
<circle cx="522.9" cy="448" r="3" fill="#f28b8c" stroke="#111" stroke-width="1.2"/>
<text x="474.4" y="444" font-size="10.2" fill="#111" textLength="37.6" lengthAdjust="spacingAndGlyphs" >HF-HHT</text>
<text x="474.4" y="468.6" font-size="10.2" fill="#111" textLength="36" lengthAdjust="spacingAndGlyphs" >HF-PBS</text>
<text x="474.4" y="495.6" font-size="10.2" fill="#111" textLength="35.2" lengthAdjust="spacingAndGlyphs" >Ch-PBS</text>
<text x="519.7" y="382.2" font-size="17.5" fill="#111" >K</text>
<line x1="601.6" y1="406.7" x2="601.6" y2="510.8" stroke="#151515" stroke-width="1.4"/>
<line x1="597.4" y1="510.7" x2="602.3" y2="510.7" stroke="#151515" stroke-width="1.4"/>
<text x="596.6" y="514.33" font-size="11.7" fill="#111" text-anchor="end" >0</text>
<line x1="597.4" y1="484.7" x2="602.3" y2="484.7" stroke="#151515" stroke-width="1.4"/>
<text x="596.6" y="488.33" font-size="11.7" fill="#111" text-anchor="end" >20000</text>
<line x1="597.4" y1="458.7" x2="602.3" y2="458.7" stroke="#151515" stroke-width="1.4"/>
<text x="596.6" y="462.33" font-size="11.7" fill="#111" text-anchor="end" >40000</text>
<line x1="597.4" y1="432.7" x2="602.3" y2="432.7" stroke="#151515" stroke-width="1.4"/>
<text x="596.6" y="436.33" font-size="11.7" fill="#111" text-anchor="end" >60000</text>
<line x1="597.4" y1="406.7" x2="602.3" y2="406.7" stroke="#151515" stroke-width="1.4"/>
<text x="596.6" y="410.33" font-size="11.7" fill="#111" text-anchor="end" >80000</text>
<line x1="599.4" y1="497.7" x2="601.6" y2="497.7" stroke="#151515" stroke-width="1.4"/>
<line x1="599.4" y1="471.7" x2="601.6" y2="471.7" stroke="#151515" stroke-width="1.4"/>
<line x1="599.4" y1="445.7" x2="601.6" y2="445.7" stroke="#151515" stroke-width="1.4"/>
<line x1="599.4" y1="419.7" x2="601.6" y2="419.7" stroke="#151515" stroke-width="1.4"/>
<text transform="translate(557.2,455.8) rotate(-90)" font-size="9.7" fill="#111" text-anchor="middle" textLength="113" lengthAdjust="spacingAndGlyphs" >Insulin AUC (arbitrary unit)</text>
<rect x="608.5" y="500.1" width="18.8" height="10.7" fill="#fff" stroke="#151515" stroke-width="1.1"/>
<line x1="617.9" y1="496.5" x2="617.9" y2="502.6" stroke="#3a3a3a" stroke-width="1.0"/>
<line x1="613.4" y1="496.5" x2="622.4" y2="496.5" stroke="#3a3a3a" stroke-width="1.0"/>
<line x1="613.4" y1="502.6" x2="622.4" y2="502.6" stroke="#3a3a3a" stroke-width="1.0"/>
<circle cx="618" cy="495.9" r="2.4" fill="#000" stroke="#fff" stroke-width="0.5"/>
<circle cx="624.9" cy="494.1" r="2.4" fill="#000" stroke="#fff" stroke-width="0.5"/>
<circle cx="624.9" cy="502.8" r="2.4" fill="#000" stroke="#fff" stroke-width="0.5"/>
<circle cx="610.9" cy="506.5" r="2.4" fill="#000" stroke="#fff" stroke-width="0.5"/>
<rect x="633.6" y="461" width="19.1" height="49.8" fill="#8dbaf5" stroke="#151515" stroke-width="1.1"/>
<line x1="643.15" y1="454.1" x2="643.15" y2="466.8" stroke="#3a3a3a" stroke-width="1.0"/>
<line x1="638.65" y1="454.1" x2="647.65" y2="454.1" stroke="#3a3a3a" stroke-width="1.0"/>
<line x1="638.65" y1="466.8" x2="647.65" y2="466.8" stroke="#3a3a3a" stroke-width="1.0"/>
<circle cx="643.1" cy="426.8" r="2.4" fill="#000" stroke="#fff" stroke-width="0.5"/>
<circle cx="636.2" cy="435.4" r="2.4" fill="#000" stroke="#fff" stroke-width="0.5"/>
<circle cx="643.1" cy="438.1" r="2.4" fill="#000" stroke="#fff" stroke-width="0.5"/>
<circle cx="643.1" cy="456.3" r="2.4" fill="#000" stroke="#fff" stroke-width="0.5"/>
<circle cx="636.2" cy="468.1" r="2.4" fill="#000" stroke="#fff" stroke-width="0.5"/>
<circle cx="650.4" cy="470.8" r="2.4" fill="#000" stroke="#fff" stroke-width="0.5"/>
<circle cx="643.1" cy="471.7" r="2.4" fill="#000" stroke="#fff" stroke-width="0.5"/>
<circle cx="636.2" cy="474.5" r="2.4" fill="#000" stroke="#fff" stroke-width="0.5"/>
<circle cx="650.4" cy="476.3" r="2.4" fill="#000" stroke="#fff" stroke-width="0.5"/>
<circle cx="643.1" cy="488.1" r="2.4" fill="#000" stroke="#fff" stroke-width="0.5"/>
<rect x="659.5" y="454.6" width="18.7" height="56.2" fill="#fc9b9e" stroke="#151515" stroke-width="1.1"/>
<line x1="668.85" y1="448.6" x2="668.85" y2="459" stroke="#3a3a3a" stroke-width="1.0"/>
<line x1="664.35" y1="448.6" x2="673.35" y2="448.6" stroke="#3a3a3a" stroke-width="1.0"/>
<line x1="664.35" y1="459" x2="673.35" y2="459" stroke="#3a3a3a" stroke-width="1.0"/>
<circle cx="671.3" cy="415" r="2.4" fill="#000" stroke="#fff" stroke-width="0.5"/>
<circle cx="666.4" cy="441.4" r="2.4" fill="#000" stroke="#fff" stroke-width="0.5"/>
<circle cx="671.3" cy="446.8" r="2.4" fill="#000" stroke="#fff" stroke-width="0.5"/>
<circle cx="666.4" cy="451.9" r="2.4" fill="#000" stroke="#fff" stroke-width="0.5"/>
<circle cx="661.8" cy="459.5" r="2.4" fill="#000" stroke="#fff" stroke-width="0.5"/>
<circle cx="666.4" cy="457.7" r="2.4" fill="#000" stroke="#fff" stroke-width="0.5"/>
<circle cx="675.8" cy="457.2" r="2.4" fill="#000" stroke="#fff" stroke-width="0.5"/>
<circle cx="671.3" cy="462.3" r="2.4" fill="#000" stroke="#fff" stroke-width="0.5"/>
<circle cx="666.4" cy="465.5" r="2.4" fill="#000" stroke="#fff" stroke-width="0.5"/>
<circle cx="666.4" cy="487.4" r="2.4" fill="#000" stroke="#fff" stroke-width="0.5"/>
<line x1="600.9" y1="510.7" x2="683" y2="510.7" stroke="#151515" stroke-width="1.4"/>
<line x1="618" y1="507.7" x2="618" y2="513.7" stroke="#151515" stroke-width="1.4"/>
<line x1="643.4" y1="507.7" x2="643.4" y2="513.7" stroke="#151515" stroke-width="1.4"/>
<line x1="669" y1="507.7" x2="669" y2="513.7" stroke="#151515" stroke-width="1.4"/>
<text transform="translate(621,520.6) rotate(-45)" font-size="11.4" fill="#111" text-anchor="end" >Ch-PBS</text>
<text transform="translate(646.4,520.6) rotate(-45)" font-size="11.4" fill="#111" text-anchor="end" >HF-PBS</text>
<text transform="translate(672,520.6) rotate(-45)" font-size="11.4" fill="#111" text-anchor="end" >HF-HHT</text>
<polyline points="617.3,403.4 617.3,398.7 666.6,398.7 666.6,403.4" fill="none" stroke="#151515" stroke-width="1.0" stroke-linejoin="miter"/>
<text x="641.8" y="393.2" font-size="10" fill="#111" text-anchor="middle" textLength="40.5" lengthAdjust="spacingAndGlyphs" ><tspan font-style="italic">p</tspan>=0.0011</text>
<polyline points="617.3,444.4 617.3,420 640.6,420 640.6,423.5" fill="none" stroke="#151515" stroke-width="1.0" stroke-linejoin="miter"/>
<text x="628.8" y="414.8" font-size="10" fill="#111" text-anchor="middle" textLength="41.5" lengthAdjust="spacingAndGlyphs" ><tspan font-style="italic">p</tspan>=0.0041</text>
</svg>
</body></html>
